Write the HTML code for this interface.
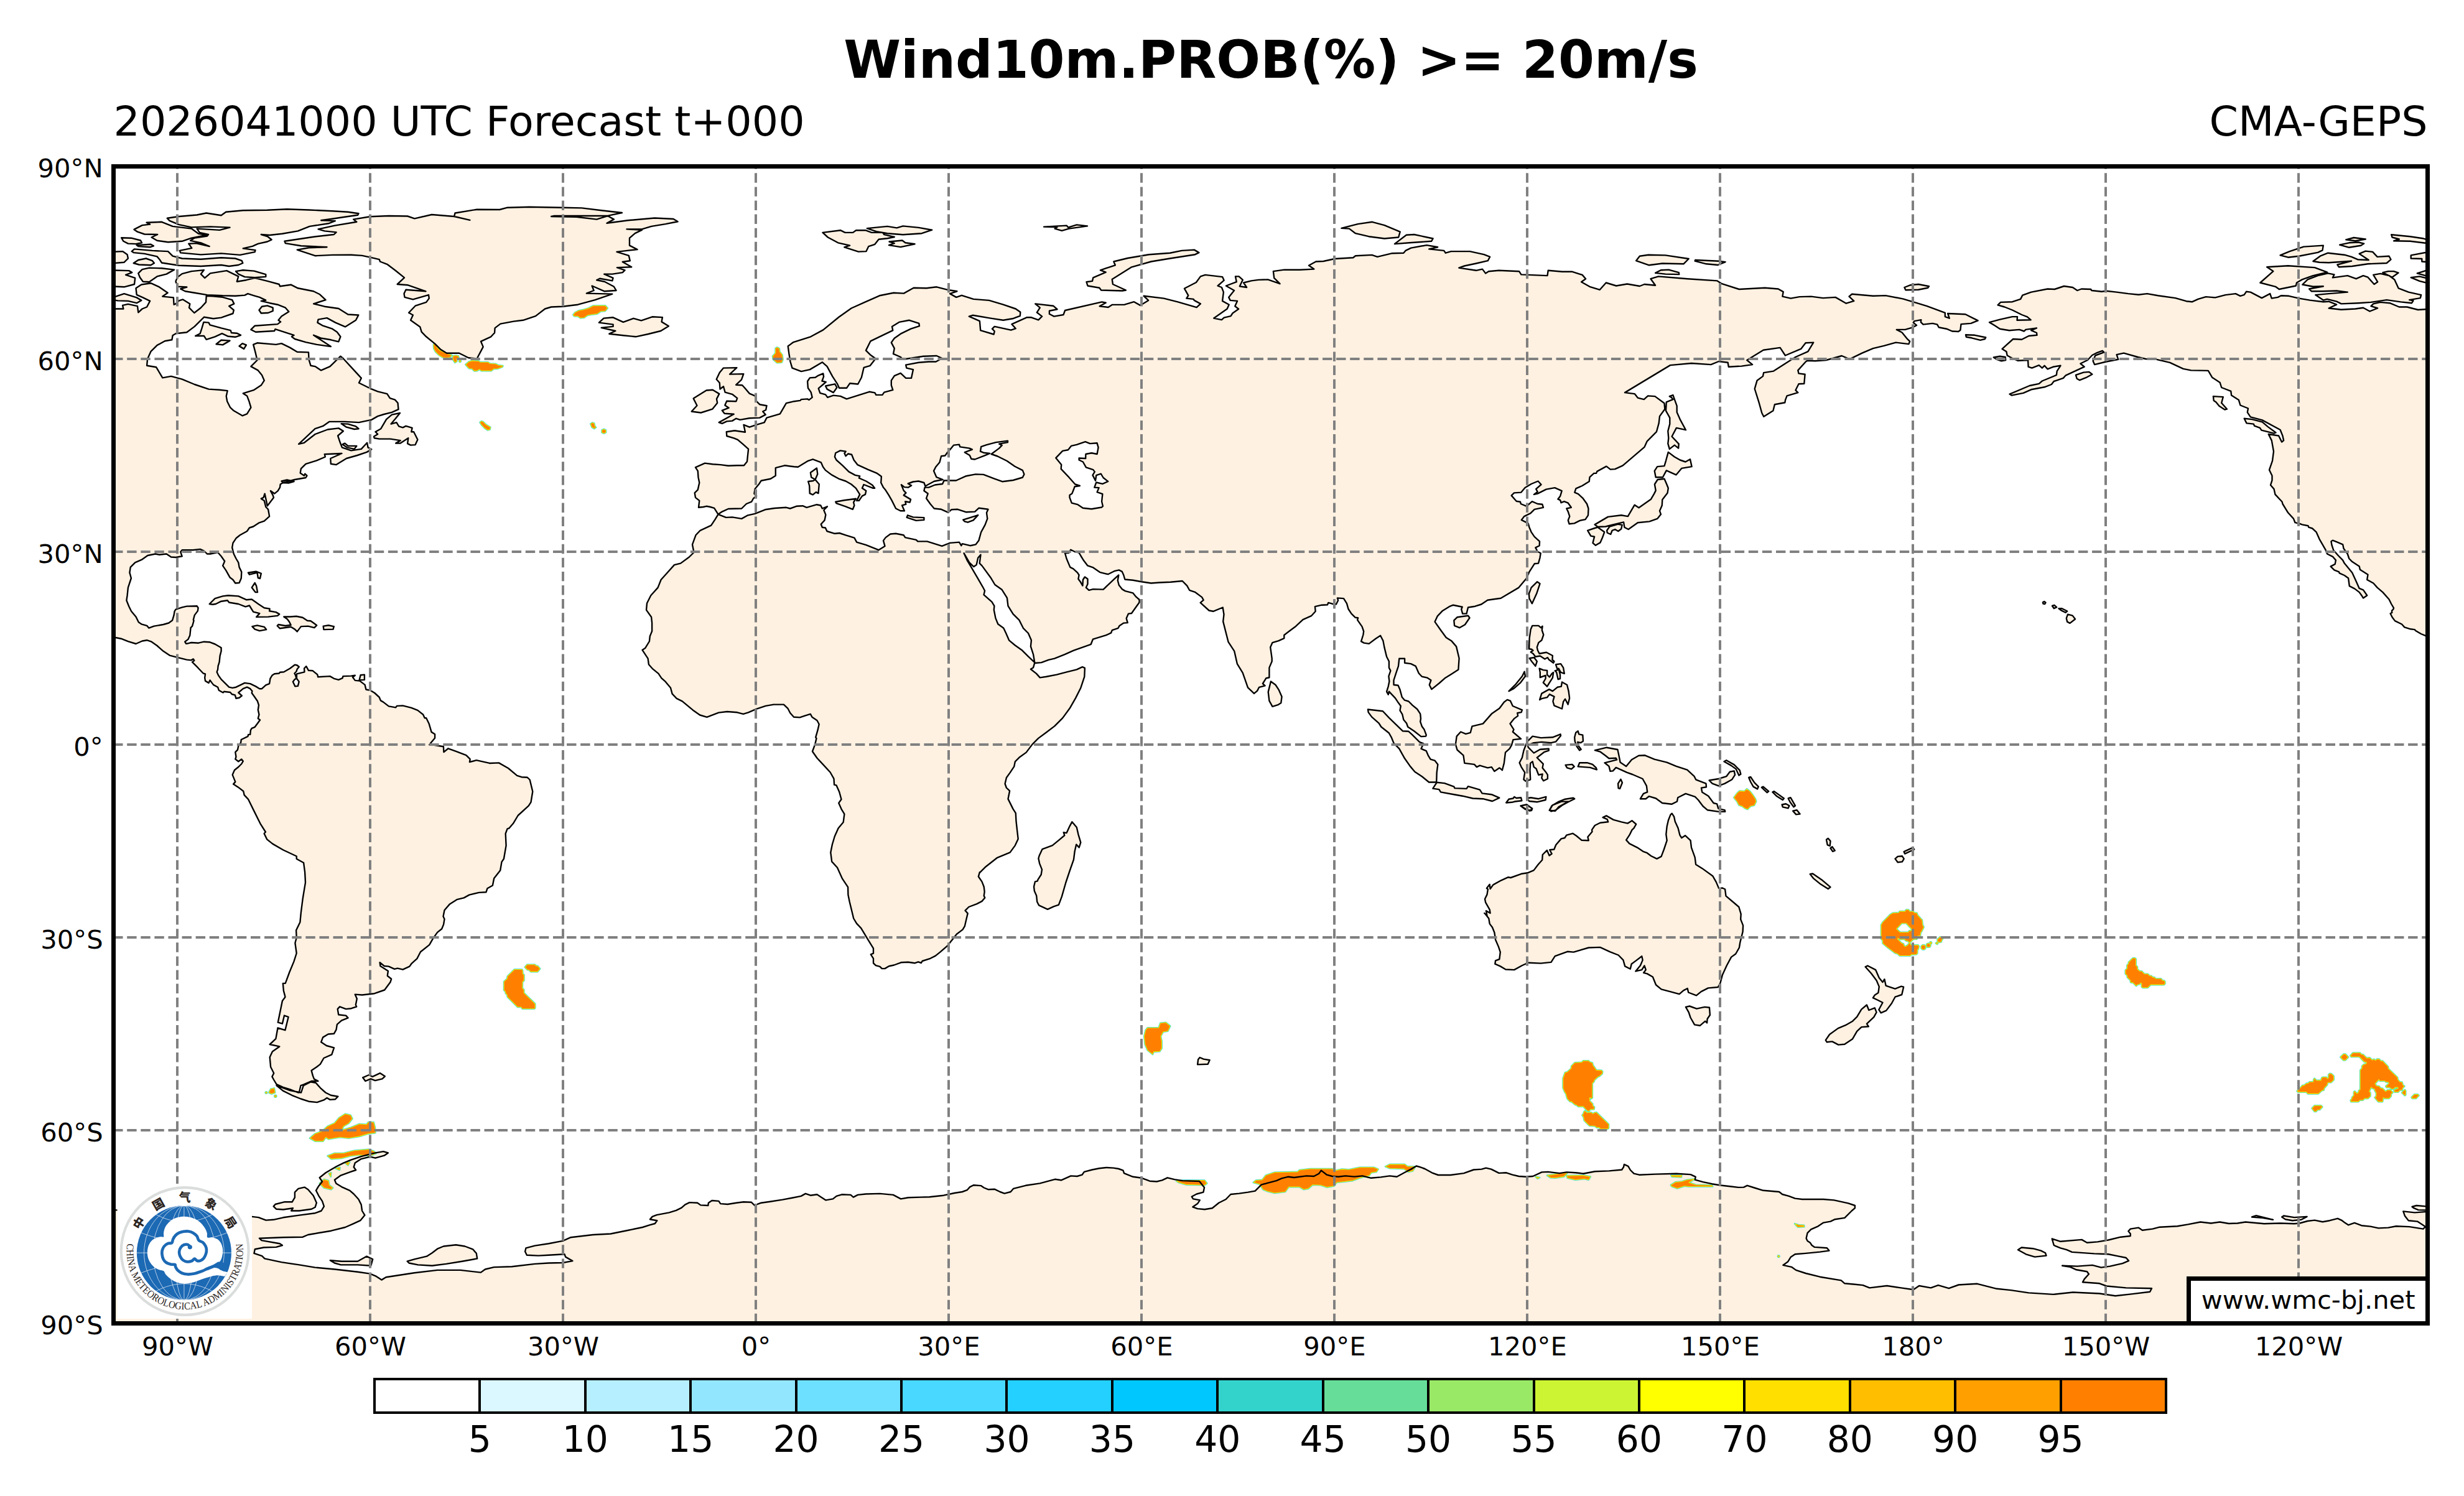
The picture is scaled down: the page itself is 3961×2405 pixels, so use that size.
<!DOCTYPE html>
<html lang="en"><head><meta charset="utf-8"><title>Wind10m.PROB(%) &gt;= 20m/s</title>
<style>html,body{margin:0;padding:0;background:#fff}body{width:3961px;height:2405px;overflow:hidden}svg{display:block}text{font-family:"DejaVu Sans","Liberation Sans",sans-serif;fill:#000}</style>
</head><body>
<svg width="3961" height="2405" viewBox="0 0 3961 2405">
<rect width="3961" height="2405" fill="#fff"/>
<defs><clipPath id="mapclip"><rect x="182.5" y="267.5" width="3720" height="1860"/></clipPath></defs>
<text x="2043" y="125.4" font-size="83.33" font-weight="bold" text-anchor="middle">Wind10m.PROB(%) &gt;= 20m/s</text>
<text x="182.5" y="217.9" font-size="66.67">2026041000 UTC Forecast t+000</text>
<text x="3902.5" y="217.9" font-size="66.67" text-anchor="end">CMA-GEPS</text>
<g clip-path="url(#mapclip)">
<defs><path id="landpath" d="M268.8 350.8L287.7 348L316.6 345.5L331.7 342.5L355.6 346.3L363.2 340.7L390.8 338.2L429.8 337.7L461.3 336.2L496.5 337.5L534.3 339.2L559.4 340.7L576.5 343.2L575 345.8L554.4 348.8L534.3 351.8L516.2 354.3L538.8 355.1L528 359.3L497.8 363.9L478.9 371.4L453.8 375.7L433.6 378L419.8 377L429.8 380L436.6 385.3L429.8 388.5L414.8 391.8L405.9 395.8L390.8 399.4L410.5 402.1L409.7 405.1L385.8 409.9L355.6 407.4L322.9 409.4L290.2 406.4L288.9 402.9L308.3 398.9L303.3 391.8L315.4 391.1L336.7 396.1L322.9 390.3L306.1 386.8L312.8 382.5L333 379.5L335 377L320.9 373.9L316.6 367.6L353.1 369.9L369.5 365.6L338 364.4L307.8 365.4L287.7 361.1L272.6 354.8ZM215.5 368.9L228.6 362.1L241.1 360.6L235.6 357.8L260 356.8L277.6 363.9L307.8 367.6L319.1 375.7L333 377.7L307.8 382.7L292.7 387.8L270.1 389.3L252.5 386.8L243.6 381.5L253.2 377L232.3 376.5L221 372.7ZM195.1 382.2L210.9 382.7L226 386.5L228 390.3L218.5 392.1L205.9 391.6L198.4 387.8ZM219.7 394.1L242.4 392.8L246.9 395.3L241.1 397.3L222.3 396.1ZM211.7 404.1L216 400.4L244.9 402.9L270.1 404.1L277.6 411.7L292.7 415.5L322.9 416.7L355.6 414.2L378.3 415.5L388.8 419.2L390.3 423L383.3 426L368.2 428L355.6 426L322.9 428L287.7 426.8L260 422.5L256.2 416.7L252.5 412.4L232.3 407.9L214.7 406.1ZM214.7 423L222.3 418L234.8 415.5L244.9 419.2L247.9 423L242.4 426.3L223.5 425.5ZM177 404.9L197.1 404.1L204.6 409.2L205.9 415.5L199.6 421.7L177 423.5ZM177 434.3L207.2 435.1L212.2 438.1L202.1 441.9L217.2 446.9L216 457L199.6 461.3L177 460.2ZM177 479.6L199.6 472.1L219.7 478.4L227.3 482.9L219.7 487.2L205.9 483.9L189.5 483.4L177 481.4ZM222.3 439.4L228.6 433.1L239.9 430.6L260 431.3L280.1 433.6L267.6 440.6L252.5 444.4L239.9 453.2L229.8 452.7L224.8 445.7ZM379 436.1L390.8 434.3L408.5 435.6L427.3 441.1L427.3 444.9L409.7 446.2L393.4 445.1L383.3 440.6ZM282.6 451.9L285.2 445.7L292.7 440.1L307.8 436.1L327.9 434.1L322.9 440.6L329.2 446.9L338 439.4L364.4 435.1L383.3 444.4L380.8 452.7L395.9 450.2L409.7 446.9L429.8 451.9L448.7 457L450 460.2L467.6 457.7L478.9 463.3L504.1 468.3L514.1 473.3L523.5 482.1L504.1 488.4L521.7 492.7L544.3 496L559.4 505.5L576.3 506.5L572 514.8L554.9 525.4L539.3 518.6L525.5 511.1L511.6 513.6L510.4 518.6L519.2 523.7L534.3 528.7L541.8 533.7L547.4 541.3L544.3 549.3L531.8 546.3L516.7 543.8L504.1 538.8L531.8 557.1L509.1 553.9L491.5 550.1L473.9 545L468.9 541.3L472.6 538.8L442.4 529.2L441.2 532L411 533.7L403.4 529.9L409.7 523.7L446.2 521.1L451.2 517.4L447.5 514.8L452.5 508.6L464.3 501L458.8 494.7L446.2 489.7L433.6 487.2L419.8 483.9L427.3 482.6L417.3 477.9L408.5 475.3L398.4 472.1L393.4 474.6L378.3 475.8L358.1 475.3L333 474.1L312.8 470.8L297.7 468.3L290.2 464.5L300.3 461.5L286.4 460.8L282.6 453.2ZM416.5 498.5L421 492.7L429.8 491.4L438.7 494.7L438.7 499.8L431.1 503L419.8 503.5ZM314.1 540L321.7 536.2L324.2 528.7L327.4 517.9L335.5 518.6L337.5 522.4L355.6 527.4L370.7 531.2L372 535L380.8 535.7L387.1 538.8L378.3 541.8L366.9 540.8L356.9 536.2L345.6 541.3L331.7 545.8L327.9 540ZM347.6 553.3L355.6 546.8L369.5 547.6L358.1 554.4ZM384.6 556.4L389.6 552.1L395.9 554.6L392.1 560.9ZM594.7 348.3L568.2 352.6L573.3 356.8L538 362.6L511.6 368.4L521.7 371.4L540.6 373.4L536.8 377L504.1 380.7L457.5 387.8L458.8 391.1L483.9 395.3L525.5 397.3L496.5 398.3L477.7 401.6L506.6 411.2L534.3 409.9L564.5 409.7L582.1 410.9L597.2 414.2L609.8 417.2L611 420.5L622.3 424.8L634.9 434.3L650 446.4L638.7 457L655.1 458.2L684.5 468.3L652.5 465.8L649.5 472.1L650.5 477.9L663.9 481.4L689 474.1L689.8 479.6L685.2 485.9L667.6 491.7L657.1 502.8L663.9 506.5L660.1 514.8L675.2 525.4L677.7 533.7L685.2 541.3L699.1 552.6L707.9 561.4L718 567.7L738.1 567.7L753.2 575.2L765.8 576.5L766.7 576.5L776.7 557.6L773 548.8L789.3 541.3L795.1 535L795.6 527.4L804.4 520.6L825.8 516.6L840.9 514.8L861 508.1L876.1 496.5L886.2 493.5L904.6 492.7L929 489.7L956.7 482.1L984.3 472.6L942.8 471.6L954.6 467L951.6 459.5L971.8 468.3L990.6 467L986.9 460.8L971.8 452.7L959.2 450.2L964.2 447.7L984.3 451.4L985.6 446.9L971.2 440.6L984.3 440.6L1000.7 438.1L1004.5 434.3L991.9 430.1L1015.3 429.3L1000.7 421L1012.8 419.2L1010.8 410.9L991.4 404.9L1008.2 402.9L1024.6 401.1L1012 394.6L1012 382.7L1020.8 375.2L1032.1 369.7L1007.5 368.4L1032.1 368.4L1047.2 363.9L1069.9 360.1L1089.5 356.3L1082.5 352L1052.3 350.5L1009.5 354.3L975.5 358.8L986.9 352.6L976.8 347L891.2 347L886.2 348L926.5 348.8L959.2 352.6L979.3 346.3L999.9 342L966.7 338.2L935.3 334.4L904.6 333.7L851 332.7L815.7 333.7L803.2 337L766.7 336.7L731.5 342.5L730.2 348L755.4 353.8L730.2 348L694.1 345L666.4 351.3L655.1 347.5L624.9 347ZM962.9 518.6L970.5 511.6L985.6 510.3L1001.9 517.9L1018.3 511.8L1030.9 515.4L1048.5 509.3L1064.9 510.1L1063.6 517.4L1074.9 524.2L1062.3 532L1042.2 537L1022.1 541.3L1001.9 539.3L979.3 536.7L989.4 532L966.7 526.9L985.6 524.9L985.6 521.6ZM1322.5 373.9L1351 370.2L1358.5 373.9L1371.1 373.9L1376.1 370.2L1391.2 370.2L1401.3 373.9L1418.9 373.9L1421.4 377.2L1437.8 381L1426.5 383.2L1412.6 384.8L1406.3 392.8L1396.3 396.1L1392.5 404.1L1379.9 404.6L1357.3 397.3L1366.1 394.6L1347.2 390.3L1330.8 381.5ZM1393.8 367.1L1426.5 363.9L1441.6 366.4L1451.6 363.4L1476.8 365.9L1498.2 369.7L1481.8 375.2L1451.6 377.2L1426.5 375.2L1408.8 372.2ZM1429.5 388.5L1450.4 386.5L1455.4 390.3L1470.5 392.3L1447.8 397.1L1429 394.1L1437.8 391.1ZM1678.1 364.6L1714.6 362.6L1717.1 365.6L1730.9 361.4L1748 363.4L1718.3 367.6L1707 370.9L1695.7 367.6L1699.5 365.1ZM1327.1 620.5L1342.2 617.3L1345.4 623L1339.7 631.1L1329.6 625.6ZM1746.5 453.2L1756 451.9L1757.3 446.4L1777.7 437.6L1768.9 434.3L1792.8 426.3L1790.3 420.5L1812.9 415L1846.9 409.2L1880.8 406.7L1899.7 402.9L1919.8 401.6L1927.4 406.1L1921.1 409.2L1880.8 415.5L1850.6 420.5L1819.2 429.3L1787.7 448.9L1789 457L1809.9 466.5L1804.1 467.5L1770.1 466.5L1767.4 462.8L1748.5 459.5ZM2156.4 366.9L2182.8 360.1L2205.9 356.8L2225.6 362.1L2250.7 372.7L2248.2 381.5L2225.6 383.5L2200.4 380.2L2179 375.2L2169 367.6ZM2241.9 392.1L2260.8 377.7L2273.4 377L2303.6 383.5L2301.1 387.8L2265.8 390.3ZM2630.1 419.2L2635.9 411.7L2649.8 409.7L2677.4 410.4L2714.7 416L2706.4 424.3L2672.4 423.5L2651 426.3ZM2725.2 418L2763 419.7L2773.6 421.2L2761.7 426L2742.9 424.3L2724.7 419.7ZM2661.1 438.9L2669.9 434.3L2682.5 433.6L2698.8 438.1L2699.3 441.1L2677.4 440.6ZM3061.4 462L3071.4 458.2L3084 457L3100.9 460.2L3099.1 462.8L3084 465.8L3063.4 466.3ZM3160 538.2L3174.6 538.8L3192.2 542.5L3190.9 545L3183.4 546.8L3169.6 543.3L3160.8 541.8ZM3204.8 574.5L3214.9 572.7L3223.7 574L3224.2 579L3217.4 580.3L3209.8 577.8ZM3336.9 602.9L3349.5 598.6L3358.3 597.9L3363.3 601.7L3353.2 607.2L3343.2 611.2L3338.7 608.7ZM3633.4 454.5L3654.3 436.1L3644.2 429.3L3678.2 427.3L3721 430.1L3741.1 437.6L3718.4 443.1L3700.8 449.4L3692 454.5L3690.8 459.5L3663.8 465L3658 460.8ZM3701.3 457.5L3709.6 449.4L3726 443.1L3742.3 439.4L3752.4 441.4L3749.9 446.4L3773.8 443.1L3787.6 448.2L3799 443.1L3806.5 445.7L3816.6 457L3822.1 453.2L3815.3 441.9L3826.6 439.9L3840.5 443.1L3849.3 449.4L3855.6 463.3L3871.9 469.6L3892.1 474.1L3890.8 479.1L3873.2 482.1L3879.5 483.4L3877 487.2L3859.3 485.4L3836.7 482.1L3811.5 485.9L3791.4 487.2L3763.7 488.4L3756.2 484.7L3741.1 480.9L3734.8 482.6L3722.2 474.1L3743.6 472.1L3773.8 469.6L3756.2 467.5L3733.5 468.3L3715.9 468.3L3712.1 464.5L3734.8 460.2L3718.4 460.8ZM3665.6 410.4L3680.7 404.1L3703.3 396.6L3734.8 394.6L3733.5 402.4L3726 405.9L3695.8 411.7L3678.2 413.7ZM3718.4 420L3729.8 411.7L3742.3 406.7L3768.8 409.7L3780.1 412.9L3790.1 417.2L3807.8 418L3792.7 407.9L3802.7 403.6L3814.1 404.9L3821.6 412.9L3840.5 411.7L3843.5 417.2L3836.7 423L3806.5 424.3L3781.3 428L3760 429.3L3757.4 425.5L3780.1 419.7L3743.6 422.3L3728.5 421.7ZM3771.3 385.3L3783.9 382L3802.7 384.5L3786.4 387.3ZM3761.2 393.6L3776.3 390.3L3791.4 389.5L3800.2 391.6L3795.2 394.8L3776.3 397.8ZM3844.2 377.2L3874.4 380.2L3894.6 383.2L3909.7 387.8L3909.7 392.1L3874.4 387.8L3848 387.3L3856.8 384.5L3845.5 381.5ZM3875.7 410.4L3909.7 404.1L3909.7 421.7L3893.3 420.5L3893.3 416L3875.7 415.5ZM3885.8 439.4L3909.7 431.8L3909.7 446.2ZM3875.7 446.2L3889.5 444.4L3909.7 449.4L3909.7 457L3889.5 451.9ZM3830.4 438.1L3839.2 436.1L3848 436.1L3855.6 438.6L3845.5 445.7ZM601 701.8L607.2 698L603.5 694.2L612.3 689.2L621.1 674.1L629.9 666.6L643 664L634.9 674.1L628.6 681.6L637.4 679.1L641.2 685.4L647.5 687.4L652.5 684.9L662.6 687.9L661.3 694.2L665.1 694.2L671.4 706.8L667.6 715.1L660.1 715.6L655.1 713.1L656.3 704.3L643.7 712.6L636.2 712.6L643.7 708.1L627.4 705.6L609.8 705.6L601.7 704.3ZM548.6 681.1L559.4 681.6L572 685.4L576.5 689.2L569.5 690L556.9 686.7ZM550.6 714.4L554.4 712.6L559.4 716.9L573.3 716.9L569.5 721.9L558.2 719.4ZM452.5 773.5L461.3 771.5L472.6 774L463.8 776.5L455 776ZM336.7 971L345.6 962.2L358.1 958.4L366.9 957.2L383.3 958.4L395.9 964.2L404.7 963.5L416 971.5L424.8 977.3L433.6 978.6L433.1 982.3L443.7 984.1L449.2 987.4L446.2 989.9L431.1 991.6L412.2 991.9L417.3 986.1L407.2 983.6L400.9 973.5L394.6 975.3L383.3 971L368.2 968.5L365.7 965.2L355.6 966.7L346.8 971L341.8 971.8ZM398.9 920.7L411.5 918.7L419.8 921.9L418 930L414.8 929L413.5 920.7L400.9 923.7ZM404.7 944.6L409.7 937L412.2 942.1L414 952.1L410.5 952.1ZM1111.7 661.5L1120.5 652L1114.7 640.6L1135.6 627.5L1145.7 626.8L1156.2 633.1L1152 641.4L1153.2 647.7L1145.2 657.7L1126.8 663.5ZM1163 591.6L1184.4 591.1L1173.1 601.6L1195.3 601.1L1192 610.4L1183.2 618.7L1193.2 619.2L1197.3 623.8L1204.8 632.6L1213.6 636.4L1216.1 645.2L1221.2 650.2L1232.5 652.2L1231.2 659L1226.2 661.5L1230.7 666.6L1221.2 671.6L1204.8 672.3L1189.7 674.9L1183.4 672.8L1177.1 676.6L1168.3 677.4L1160.8 680.9L1155.7 679.1L1179.7 665.8L1164.6 664.8L1160.8 659.8L1171.6 655.7L1165.3 651.5L1168.3 644.7L1183.4 645.2L1185.2 640.1L1177.1 633.8L1165.6 630.6L1163 621.3L1157.5 625.5L1156.8 615.5L1151.7 609.7L1156.8 599.1ZM1302.9 759.7L1313 752.6L1314.3 762.2L1310.5 771L1304.2 767.2ZM1299.2 774L1307.2 773L1310.5 771L1316.8 778.5L1315.5 793.1L1311.8 791.1L1306.7 795.4L1301.7 793.1L1301.2 781ZM1343.2 806.7L1357 804.2L1375.9 801.7L1372.1 807.5L1373.4 812.5L1370.9 818.8L1359.6 814.3L1344.5 809.2ZM1457.7 831.9L1459 828.3L1467.8 831.4L1485.4 832.1L1485.4 835.9L1472.8 836.9L1465.2 834.4ZM1548.3 835.6L1559.6 832.1L1572.2 828.1L1564.6 836.4L1555.8 839.7L1550.8 838.4ZM2683.8 637.1L2689.4 635.1L2695.7 652.7L2695.7 662.8L2700.7 674.1L2710 691.2L2694.9 687.9L2687.6 701.8L2698.7 713.6L2698.2 720.6L2691.9 715.6L2683.8 721.9L2681.3 713.1L2682.3 704.3L2681.3 693L2684.3 681.6L2684.3 671.6L2678 660.3L2678.8 646.4L2689.4 642.1L2686.9 638.9ZM2681.8 726.9L2691.9 734.5L2700.7 739.5L2709.5 742.5L2717 738.3L2719.6 750.1L2703.2 752.9L2694.4 763.4L2678.8 756.4L2673 767.2L2661.7 767.2L2659.7 757.1L2664.2 750.1L2675.5 749.1L2678 740.8ZM2664.7 771L2675.5 769.7L2679.3 778.5L2681.8 784.8L2680.6 792.4L2672.3 803.2L2671.8 812.5L2668 821.3L2670 826.8L2664.2 833.9L2651.6 838.4L2632.8 840.2L2617.7 851L2611.4 847.7L2610.1 839.4L2596.3 842.7L2581.2 846.5L2568.6 847L2563.6 843.4L2584.9 830.9L2606.3 828.3L2616.9 830.1L2627.7 811.7L2634.5 816.3L2654.1 802.4L2659.2 793.6L2661.7 788.6L2659.9 778.5ZM2552.2 852.8L2563.6 849L2568.6 847.7L2579.2 855.3L2576.1 864.1L2572.4 872.4L2564.8 876.7L2560.5 872.9L2563.1 862.8L2557.3 861.6ZM2583.2 852.8L2587.5 846.5L2601.3 842.7L2607.6 843.9L2606.3 850.2L2601.3 854L2596.3 851L2591.7 852.8L2589.2 859L2583.7 856.5ZM2457.9 954.7L2461.6 944.6L2471 935.3L2475.5 938.3L2470.5 953.4L2462.9 970.3L2458.4 962.2ZM3607.7 672.8L3620.3 674.1L3636.7 678.4L3645.5 685.9L3658.5 695.5L3655.5 696.7L3635.4 691.7L3632.9 687.9L3624.1 684.7L3622.8 681.6L3611.5 680.4ZM3557.9 637.1L3573.8 638.1L3571.2 647.7L3580 657.7L3576.3 658.5L3567.5 652.7L3562.4 646.4L3558.7 643.9ZM579.6 1085.3L585.9 1084.6L585.9 1092.9L577.6 1093.4ZM405.4 1007.1L413.5 1005.3L424.8 1007.8L428.1 1012.1L417.3 1014.1L409.7 1011.6ZM456.3 991.5L466.3 991.5L476.4 990.7L486.5 992.7L494 997.7L499.5 998.2L504.1 1001.5L509.1 1005.3L505.3 1009.1L495.3 1006.6L483.9 1007.1L477.7 1015.4L473.9 1011.6L467.6 1007.8L450 1010.3L445.7 1006L447.5 1004L458.8 1006L467.6 1004.8L465.1 999.8L461.8 995.2ZM519.7 1006.6L528 1005.3L536.8 1007.1L535.5 1011.6L520.4 1012.1ZM1723.4 1321.2L1730.8 1330L1733.4 1341.3L1737.3 1354.3L1734.7 1362.5L1730.2 1357.6L1727.6 1369L1726 1381.9L1719.8 1399.5L1713.3 1419L1706.8 1441.7L1701.9 1454.7L1693.8 1457.3L1684.1 1461.9L1670.1 1455.4L1667.2 1449.8L1666.2 1440.1L1662.9 1432.6L1662 1425.5L1663.9 1417.4L1667.8 1416.4L1668.5 1414.1L1673.7 1406L1675 1397.9L1671.1 1388.1L1669.4 1380L1670.7 1375.5L1675.6 1365.1L1691.8 1359.2L1701.6 1351.1L1711.3 1343L1709.7 1338.1L1714.6 1339.1L1719.5 1328.3ZM1925.1 1711.4L1926.1 1703.2L1928.7 1700L1934.8 1702.6L1944.6 1704.2L1941.7 1710.7ZM2042.9 1095.5L2050.5 1101L2055.5 1108.6L2060.6 1119.9L2059.3 1130L2054.3 1133.2L2045.5 1135.8L2040.4 1126.7L2038.7 1112.4ZM2337.3 997.4L2342.4 992.3L2360 989.8L2362.5 993.3L2355 1004.2L2346.2 1009.2L2338.1 1005.9ZM2199 1140.5L2222.9 1143.3L2232.9 1153.9L2255.1 1175.3L2264.4 1175.8L2269.4 1180.3L2282 1192.9L2288.3 1195.4L2284.5 1203.7L2292.8 1207.2L2295.8 1214.3L2299.6 1220.6L2306.4 1222.6L2311.4 1228.9L2309.7 1241.9L2309.2 1257.5L2297.1 1257.5L2285.8 1248.2L2274.4 1240.7L2266.9 1231.9L2258.1 1219.3L2249.3 1203.7L2240.5 1194.6L2236.7 1185.3L2232.9 1178.5L2220.3 1168.5L2216.6 1162.7L2205.2 1152.6L2199.7 1145.1ZM2303.4 1267.6L2309.7 1257.8L2322.2 1259.1L2337.3 1264.6L2338.6 1267.1L2357.5 1267.9L2360 1264.1L2378.9 1269.6L2382.6 1275.4L2397.7 1277.2L2410.3 1282.7L2399 1288L2383.9 1284.2L2367.5 1283.5L2351.2 1279.7L2337.3 1277.2L2316 1273.4L2313.4 1269.1ZM2348.2 1176.5L2356.3 1179.8L2363.8 1177.8L2366.4 1167.7L2384 1163.4L2397.8 1147.6L2410.4 1138.8L2417.9 1128.7L2423 1124.9L2428 1126.7L2431.8 1135L2446.9 1141.3L2445.6 1145.1L2439.3 1146.3L2440.1 1150.9L2434.3 1155.1L2427.5 1163.4L2433.5 1172.8L2431.8 1176.5L2445.1 1187.8L2432.5 1189.1L2430 1197.9L2426.7 1203.7L2420 1209.7L2417.9 1226.9L2414.9 1238.2L2410.4 1234.4L2402.3 1239.9L2397.8 1233.1L2391.5 1234.4L2378.9 1230.6L2373.9 1233.1L2370.1 1228.9L2354.3 1226.9L2352.5 1214.3L2342.5 1205.5L2339.9 1196.7L2341.7 1183.6ZM2425.5 1111.1L2436.8 1099.8L2446.9 1087.2L2450.6 1079.7L2451.9 1087.2L2444.4 1097.3L2433 1107.3ZM2458.2 1039.4L2458.7 1025.6L2460.7 1011.7L2463.2 1005.9L2473.3 1005.9L2477.1 1009.2L2479.6 1006.7L2478.8 1013L2481.3 1020.5L2478.3 1029.3L2473.3 1033.1L2470.8 1040.6L2472 1045.7L2474.6 1050.7L2485.9 1048.7L2495.9 1054L2495.4 1060.8L2498.5 1063.3L2497.2 1065.8L2489.7 1060.3L2487.9 1057L2483.4 1059.5L2475.8 1054.5L2468.3 1055.7L2464.5 1050.7L2460.7 1048.2L2464.5 1045.7L2462 1043.7L2458.2 1043.2ZM2458.7 1058.3L2466.2 1057L2470.8 1063.3L2468.3 1070.8L2463.2 1064.6ZM2501 1068.3L2509 1067.1L2513.1 1073.4L2514.8 1082.9L2509 1080.9L2505.5 1074.6L2508 1084.7L2508 1091L2504.7 1092.2L2502.2 1080.9L2499.7 1078.4L2504 1077.1ZM2474.6 1074.6L2480.8 1077.1L2487.1 1077.9L2487.1 1084.7L2490.9 1088.5L2494.7 1082.9L2497.2 1080.9L2495.9 1089.7L2490.9 1097.3L2487.1 1103.6L2480.8 1097.3L2484.6 1091L2484.6 1085.9L2475.8 1089L2475.8 1080.9ZM2475.1 1124.9L2478.3 1114.9L2490.4 1108.1L2495.9 1111.1L2503.5 1104.8L2509.8 1103.6L2511 1096.5L2519.1 1101L2521.6 1111.1L2523.1 1122.4L2520.6 1132.5L2516.1 1123.7L2513.1 1128.2L2511 1139.5L2498.5 1134.3L2496.4 1127.5L2498.5 1119.9L2490.9 1116.1L2487.1 1121.2L2478.3 1123.2ZM2455.7 1191.6L2463.7 1183.6L2477.1 1186.1L2495.9 1185.3L2508.5 1180.3L2509 1182.8L2501 1192.4L2493.4 1194.1L2478.3 1192.9L2465.7 1194.1L2455.7 1197.9L2456.9 1201.7L2465.7 1210.5L2475.8 1204.7L2489.7 1203.7L2489.7 1206.7L2482.1 1209.2L2470.8 1218L2480.8 1228.1L2479.6 1234.4L2484.6 1240.7L2487.9 1245.7L2487.9 1252L2481.3 1255.3L2478.3 1250.8L2479.6 1244.5L2473.3 1245.7L2469.5 1235.7L2465.7 1233.1L2463.7 1224.3L2460.2 1226.9L2459.5 1238.2L2460.2 1253.3L2452.7 1255.8L2449.4 1253.3L2451.2 1241.9L2445.6 1233.1L2442.6 1226.3L2446.9 1218L2449.4 1206.7L2453.7 1195.4ZM2531.2 1185.3L2533.2 1177.8L2536.7 1175.3L2538.2 1180.3L2544.3 1181.6L2545 1191.6L2541.2 1194.1L2536.2 1192.9L2537.5 1199.2L2541.7 1204.7L2539.2 1206.2L2534.9 1200.4L2531.7 1191.6ZM2516.6 1229.9L2527.4 1228.9L2530.7 1232.4L2526.1 1236.4L2519.1 1234.4ZM2536.7 1232.4L2539.2 1226.3L2551.3 1226.1L2560.1 1228.9L2565.9 1234.4L2566.9 1237.4L2556.3 1233.9L2546.3 1233.1ZM2563.9 1206.2L2572.7 1204.2L2582.8 1201.7L2600.4 1205L2602.4 1214.3L2604.6 1225.6L2614.2 1231.9L2623 1221.3L2634.3 1214.8L2644.4 1214.3L2659.5 1220.6L2679.6 1225.6L2694.7 1231.9L2712.3 1237.7L2723.7 1248.2L2726.2 1253.3L2742.5 1259.6L2743 1265.3L2735 1266.6L2736.2 1273.4L2746.3 1279.7L2754.6 1291L2760.1 1292.3L2762.2 1299.8L2772.7 1302.3L2773.2 1304.9L2762.7 1304.9L2745 1302.3L2737.5 1296L2730 1286L2724.9 1280.9L2709.8 1275.9L2697.2 1282.2L2696 1288.5L2687.2 1292.8L2672.1 1291L2662 1283.5L2650.7 1280.2L2645.7 1284.2L2636.9 1284.2L2641.9 1275.9L2648.2 1273.4L2646.9 1263.3L2640.6 1252L2624.3 1245L2615.5 1241.9L2597.8 1233.9L2592.8 1239.4L2588.5 1239.9L2586.5 1231.9L2579.5 1226.3L2599.1 1221.3L2597.8 1218.8L2586.5 1219.3L2580.2 1214.3L2572.7 1208.7ZM2601.1 1259.6L2605.4 1252.8L2607.9 1258.3L2604.1 1267.9L2601.6 1267.1ZM2747.6 1254.5L2762.7 1252L2775.2 1248.2L2780.8 1240.7L2787.8 1239.4L2789.1 1245.7L2784.1 1253.3L2772.7 1259.6L2762.7 1263.3L2752.6 1259.6ZM2771.5 1224.3L2775.2 1222.3L2787.8 1229.4L2796.6 1238.2L2798.4 1244.5L2795.4 1246.5L2790.8 1236.4L2782.8 1230.6ZM2811.2 1250L2814.2 1249L2820.5 1258.3L2826.8 1264.6L2825.1 1268.4L2818.5 1264.6L2814.2 1257ZM2831.9 1265.9L2834.4 1264.6L2843.2 1272.1L2840.7 1274.2ZM2849.5 1273.4L2852 1272.1L2867.8 1283.5L2865.8 1286L2855.8 1279.7ZM2874.6 1283.5L2878.4 1282.2L2886 1295.3L2883.4 1297.3L2877.9 1289.8ZM2864.6 1293.5L2870.9 1292.3L2876.4 1295.3L2874.6 1299.3L2865.8 1297.3ZM2882.2 1303.6L2888.5 1302.3L2893.5 1308.6L2887.2 1309.4ZM2421.2 1290.5L2425.5 1284.7L2432.5 1283.5L2434.3 1280.9L2437.6 1283L2445.1 1282.2L2446.4 1287.2L2435.6 1288.5L2430.5 1289.8ZM2454.4 1283.5L2460.7 1282.2L2473.3 1284.2L2485.4 1280.9L2484.6 1286L2470.8 1289.3L2458.2 1288ZM2444.4 1295.5L2453.7 1293.5L2463.2 1299.8L2462 1303.1L2451.9 1301.1ZM2490.9 1302.3L2494.7 1295.3L2506 1288.5L2516.1 1284.7L2529.2 1282.7L2531.2 1284.2L2521.1 1289.3L2511 1294.8L2501 1302.3L2493.4 1304.4ZM2428.5 1411L2445.6 1404.8L2455.6 1403.3L2465.6 1399.1L2472.7 1389.7L2479.2 1382.5L2479.8 1374L2486.9 1366.9L2490.6 1375.4L2494.6 1372.6L2491.2 1366.3L2498.3 1365.5L2501.2 1358.3L2509.7 1348.4L2515.4 1347L2518.2 1342.7L2528.2 1339.8L2533.9 1343.5L2542.4 1350.7L2553.8 1351.2L2552.4 1345.5L2559.5 1337L2559 1334.1L2563.8 1327L2572.3 1322.7L2585.2 1321.3L2583.7 1317.1L2576.6 1314.2L2582.3 1311.4L2593.7 1317.9L2606.5 1321.3L2616.5 1323.6L2623.6 1319.3L2630.2 1325L2626.5 1331.3L2623.6 1334.1L2619.3 1342.7L2614.2 1350.4L2619.3 1356.1L2632.1 1362.6L2642.1 1369.2L2647.8 1371.2L2654.1 1376L2663.5 1380.6L2670.6 1376.9L2674.9 1365.5L2679.7 1351.2L2678.3 1341.3L2679.7 1328.4L2682 1318.5L2685.4 1309.9L2687.7 1307.7L2691.1 1312.8L2692.8 1320.8L2697.6 1331.3L2700.5 1342.7L2703.3 1347L2709 1343.2L2717.6 1351.2L2719 1362.6L2724.7 1378.3L2726.1 1389.7L2736.1 1395.9L2753.2 1408.2L2758.9 1418.1L2763.1 1428.1L2768.8 1427.5L2773.1 1429.5L2774.5 1440.4L2785.9 1450L2795.3 1458L2798.7 1469.4L2798.2 1477.9L2802.1 1487.9L2801.6 1497.9L2797.3 1515L2795.9 1523.5L2790.2 1533.5L2783.1 1538.6L2775.9 1552L2768.8 1567.6L2765.4 1580.5L2761.7 1587L2746 1588.4L2734.7 1594.1L2727 1600.4L2714.2 1595.5L2712.7 1589L2706.2 1592.4L2699.6 1598.1L2684.8 1594.1L2670.6 1590.4L2662 1583.3L2656.9 1570.5L2647.8 1565.4L2642.1 1563.9L2645.8 1559.1L2643.5 1552.5L2639.3 1559.1L2629.3 1561.4L2637 1552L2640.7 1543.4L2639.3 1537.2L2629.3 1544.9L2622.7 1549.7L2620.8 1557.7L2612.2 1553.4L2609.4 1543.4L2601.7 1535.5L2588 1530.1L2572.3 1522.9L2553.8 1523.5L2529.6 1530.6L2519.7 1529.8L2499.7 1537.2L2493.5 1546.9L2477 1548.6L2457 1547.7L2447.1 1552L2434.2 1559.1L2420.4 1558.5L2411.8 1553.4L2403.3 1549.7L2404.1 1544.3L2410.4 1542L2411.8 1530.6L2409 1522.1L2404.1 1510.7L2402.4 1499.3L2399 1490.8L2394.7 1485.1L2393.3 1476.5L2388.2 1470L2386.2 1468L2390.5 1472.2L2389 1464.3L2395.6 1468L2394.7 1462.3L2388.2 1450.9L2387 1445.2L2390.5 1438.1L2391.9 1429.5L2389.9 1428.1L2394.7 1421.8L2395.6 1429L2400.4 1422.4L2413.2 1415.3L2424.6 1410.2ZM2709.9 1618.9L2716.1 1617.5L2727.5 1621.7L2740.4 1618.9L2748 1619.8L2748.9 1631.7L2744.6 1638L2744.1 1644.5L2741.2 1641.7L2732.7 1648.8L2724.1 1647.4L2717.6 1636L2714.7 1627.4ZM2998.6 1554.3L3002.3 1552.5L3015.1 1559.1L3020.8 1571.9L3026.5 1579L3029.4 1574.2L3031.7 1584.7L3046.5 1589.6L3056.4 1585.6L3060.1 1586.7L3057.3 1599L3046.5 1602.7L3040.8 1613.2L3032.2 1624.6L3023.7 1628.3L3020.3 1623.2L3026.5 1611.8L3018 1607.5L3010.9 1604.1L3013.7 1599.8L3019.4 1596.1L3020.8 1586.1L3016.6 1576.2L3008 1564.8ZM2934.8 1672.1L2941.1 1663L2954.8 1653.1L2966.7 1648.2L2978.1 1641.7L2985.2 1634.6L2992.4 1622.6L3000.9 1615.5L3004.3 1624L3013.7 1620.3L3016.6 1627.4L3012.3 1635.1L3000.9 1645.9L3003.8 1650.2L2992.4 1651.1L2985.2 1657.9L2978.1 1670.2L2965.3 1678.7L2955.3 1679.6L2945.4 1674.4L2936.8 1675.3ZM2909.8 1405.3L2914.1 1404.5L2929.7 1415.3L2942.5 1426.1L2938.8 1429L2926.9 1421.6L2915.5 1412.4ZM2936 1349.8L2938.8 1347.8L2942.5 1352.1L2941.7 1359.8L2937.7 1358.3ZM2942.5 1363.5L2945.4 1361.2L2949.7 1367.5L2946.2 1368.9ZM3046.5 1380.6L3050.7 1376.9L3057.9 1376.3L3060.7 1380.6L3057.9 1385.4L3050.7 1386.2ZM3060.7 1369.2L3074.9 1362.6L3077.2 1365.5L3062.1 1372.6ZM2444.6 1295.7L2454.5 1293.4L2463.1 1300L2459.4 1303.7L2451.7 1300ZM2490.7 1302.8L2495.8 1294.3L2510.1 1288.6L2521.4 1288.6L2505.8 1297.1L2500.1 1303.7ZM444.5 1745.1L455 1753.6L469.3 1760.8L483.5 1766.5L496.3 1770.7L509.7 1772.1L520.5 1768.4L525.6 1765L530.5 1767.9L539 1767.3L543.3 1762.7L531.9 1760.8L523.4 1756.5L516.2 1750.2L507.7 1740.8L499.2 1739.4L487.8 1745.1L484.1 1756.5L466.4 1753.1ZM583.2 1732.3L593.1 1728L598.8 1730.9L611.1 1725.2L618.8 1730.3L614.5 1734.3L603.1 1737.1L596 1734.3L587.4 1738ZM177 496.5L198.4 496.5L197.1 490.9L205.9 488.9L221 492.2L222.3 502.3L228.6 496.5L236.1 493.5L241.1 483.9L229.8 478.4L219.7 473.8L218.5 463.3L227.3 457.5L242.4 455.2L255 460.8L269.6 470.8L261.3 476.6L278.9 478.4L279.6 489.7L282.6 488.4L287.7 483.4L294 481.4L305.3 488.4L304 494.7L312.3 503L322.9 494.7L331 485.9L331.7 475.8L343 476.4L358.1 477.9L373.2 482.1L376.3 488.4L368.2 492.2L375.8 498.5L374.5 504L355.6 510.6L343 512.3L327.9 509.8L319.1 518.6L312.8 524.9L300.3 534.2L282.6 536.2L277.6 539.3L276.4 546.3L265 548.3L252.5 555.1L242.4 565.2L237.9 575.2L236.9 579L236.1 587.8L251.2 590.3L261.3 607.4L275.1 604.9L292.7 609.7L312.8 618L335.5 625.6L353.1 626.8L365.7 628.1L363.7 636.9L365.2 645.2L370.2 655.2L375.8 660.3L389.6 668.3L397.1 665.3L403.4 655.2L400.4 645.2L397.1 636.4L390.8 632.4L408.5 626.8L419.8 619.3L424.8 611.7L421 602.9L414.8 595.4L403.4 589.1L413.5 579L410.5 566.4L407.2 553.9L413.5 551.3L443.7 553.9L452.5 552.1L466.3 558.9L477.7 565.7L496 566.4L496.5 577.8L499.5 587.8L506.6 589.1L516.2 595.4L530.5 589.1L547.4 572.7L551.9 576.5L567 592.9L580.8 607.9L577 615.5L594.7 624.3L607.2 629.3L622.3 633.1L626.9 640.1L634.9 642.6L639.5 647.7L640.5 658.2L629.9 662.8L617.3 666L607.2 669.1L597.2 674.9L577 679.1L554.4 677.9L529.2 677.9L519.2 684.9L506.6 689.2L480.2 713.9L489 711.8L506.6 698L526.7 690.5L544.3 688.4L551.9 693L543.1 700.5L546.9 711.8L549.9 719.4L564.5 724.4L580.8 721.9L590.1 711.8L591.6 719.4L597.2 722.4L589.6 726.9L574.5 732L556.9 737L540.6 747.1L531.8 745.8L531.3 737L549.4 729L521.7 730.2L522.9 734.5L509.1 740.3L491.5 745.8L483.9 753.4L482.7 760.4L489 764.7L490.2 761.7L493.5 764.7L491.5 768L473.9 771L455 776L450.7 778.5L450 783.6L446.7 789.1L441.2 793.6L434.9 789.1L438.7 796.1L439.9 799.9L429.8 813.2L425.6 793.6L423.6 799.9L419.8 801.7L424.8 804.9L427.3 815L431.1 818.8L433.1 830.1L424.8 837.7L416 840.7L407.2 846.5L400.9 848.5L397.1 854L385.8 860.3L379.5 865.3L374.5 872.9L373.2 880.4L375.8 890.5L379.5 898L383.3 904.3L384.6 911.9L388.3 919.4L387.8 929.5L384.6 937L378.3 937.5L374.5 932L369.5 928.2L363.2 916.9L358.1 909.4L361.2 902.3L355.6 894.3L350.1 888L338 890.5L333 890.5L327.9 885.5L321.7 882.9L310.3 884.2L292.7 884.2L290.2 887.2L292.7 894.3L282.6 896L275.1 895.5L267.6 890.5L256.2 891.8L249.9 890.5L237.4 893L228.6 899.3L217.2 904.3L209.7 911.9L208.4 920.7L210.9 929.5L205.9 944.6L204.6 957.2L203.4 965.2L207.2 974.8L210.9 982.3L212.2 983.9L218.5 991.5L222.8 1000.3L227.3 1003.3L236.1 1005.8L239.4 1009.6L247.4 1006.6L262.5 1004L271.3 1001.5L277.1 997.2L279.6 988.9L280.6 982.6L282.6 979.6L292.7 976.4L300.3 974.6L316.6 974.3L318.6 977.1L317.9 982.1L312.8 988.9L310.8 996.5L311.6 997.7L309.1 1006.6L306.6 1009.1L305.3 1021.6L302.3 1027.9L297.2 1031.7L299 1034.7L302.8 1034.2L307.8 1033L319.1 1033.7L327.9 1031.7L336.7 1032.2L345.6 1035.5L355.6 1041.3L355.6 1046.8L353.6 1054.4L352.6 1064.4L350.6 1070.7L350.1 1076.2L348.6 1080.3L351.1 1085.8L355.6 1092.1L361.9 1098.4L368.2 1104.7L373.7 1105.9L379.5 1104.7L388.3 1100.4L393.4 1097.9L402.2 1099.1L411 1103.4L417.3 1107.2L421 1107.2L427.3 1101.4L433.1 1099.1L434.4 1090.8L437.4 1085.8L441.2 1083.3L448.7 1082.5L450 1080.8L456.3 1080.3L466.3 1074.5L473.9 1068.7L477.7 1069.5L480.7 1072L477.7 1075.7L476.4 1079.5L473.4 1082.5L475.1 1085.8L476.4 1090.8L473.9 1092.1L470.9 1095.9L474.4 1103.4L478.9 1102.9L480.7 1095.9L476.9 1090.8L476.9 1083.3L489.5 1080.3L489 1074.5L492.3 1071.2L496 1077.8L502.8 1078.3L510.4 1084.6L511.1 1088.3L530.5 1087.1L536.8 1090.8L544.3 1092.9L550.6 1090.1L551.4 1087.1L564.5 1086.6L570.8 1085.8L567 1088.8L570.8 1093.9L578.3 1094.6L586.6 1100.9L588.4 1108.5L595.2 1109.7L602.2 1114L609.8 1121L611.8 1126.1L616.1 1128.6L624.9 1135.4L636.2 1137.4L637.9 1134.9L647.5 1134.4L661.3 1137.9L671.4 1141.9L680.2 1148.7L682.7 1154.3L685.2 1154.3L689.8 1163.8L693.6 1176.9L699.1 1180.2L699.1 1186.5L692.8 1194L690.3 1197.3L697.8 1197.8L712.9 1200.3L713.4 1209.1L720.5 1203.3L733.1 1207.8L749.4 1214.1L755.7 1220.4L754.9 1225L765.8 1222.2L785.9 1226.7L787.1 1227L801.9 1226.4L817 1235L831.2 1246.9L838.4 1249.2L847.8 1249.8L851.7 1253.5L856.3 1272.5L853.5 1289.6L849.8 1295.3L832.7 1311L825 1323.8L818.4 1331.5L815.6 1332.3L812.7 1340L813.6 1359.4L809.9 1380.8L806.5 1385.6L804.2 1399.3L794.2 1412.1L791.9 1423.5L783.4 1428.3L781.4 1434.3L770 1434.9L754.4 1438.6L745.8 1443.4L734.4 1446.2L723 1453.4L714.5 1463.3L712.5 1473.3L714.5 1477.6L713.1 1486.1L710.2 1493.2L703.1 1498.9L696 1508.9L690.3 1518.9L676 1530.3L670.4 1541.1L661.8 1548.8L658.4 1553.6L647.6 1558.7L639 1556.7L634.2 1557.9L624.8 1553.6L617.7 1553L610.6 1547.3L611.4 1553L623.9 1561L622.8 1568.7L629.1 1573.8L627.6 1578.7L618.2 1591.5L602 1597.2L582.1 1599.5L570.7 1598.6L573.8 1605.6L571.8 1615.5L573.2 1618.4L564.7 1621.2L556.1 1622.1L546.1 1618.4L542.7 1622.1L544.2 1631.2L556.1 1632.6L559.5 1636.3L549 1640.6L541.9 1646.9L540.5 1655.4L537 1661.7L527.6 1662.5L519.1 1667.6L516.2 1675.3L524.8 1681L537 1684.4L533.3 1695.3L520.5 1701L514.8 1710.9L509.1 1715.2L500.6 1720.9L502.9 1729.4L504.9 1734.6L511.4 1738L500.6 1738L487.8 1743.7L483.5 1745.1L481.2 1755.1L479.2 1756.5L466.4 1751.4L455 1747.9L444.5 1743.1L440.2 1736L437.4 1730.9L440.2 1725.2L435.1 1715.2L433.7 1699.5L437.9 1690.4L449.3 1682.4L433.7 1679L443.4 1669.9L446.5 1652.5L458.4 1656.2L463.6 1634.9L457 1632.6L453.9 1645.7L446.8 1643.7L453.9 1609L458.4 1603L458.2 1601.4L455.9 1592.9L454.8 1580.9L458.8 1580.7L465.3 1563L472.4 1545.9L476.7 1532.5L474.4 1516L476.7 1507.5L476.1 1495.5L482.4 1482.4L483.8 1467.6L486.7 1444.8L491 1418.6L490.1 1402.1L488.1 1387L476.7 1380.8L476.7 1376.5L455.4 1366.5L438.3 1356.6L429.2 1349.4L424.6 1340L426.9 1337.5L418.3 1323.8L408.4 1303.9L399 1284.8L392.7 1278.2L391.3 1272L382.7 1265.4L375.1 1260.6L378.3 1256.9L373.7 1245.6L377 1238L383.3 1233L388.3 1228L390.8 1223.7L388.3 1220.4L383.3 1224.2L378.3 1220.4L379.5 1216.7L378.3 1209.1L382 1205.3L383.3 1199L387.1 1194L387.8 1189L398.4 1183.9L399.2 1180.9L402.2 1180.9L402.9 1173.9L404.7 1170.9L409.7 1168.8L418 1157.5L414.8 1155L416.5 1148.7L414.8 1141.2L416 1133.6L414 1127.3L409.7 1121L404.7 1114L405.4 1111L402.2 1107.2L397.1 1104.7L390.8 1107.2L383.3 1113.5L388.8 1118.5L384.6 1121.8L379.5 1122.8L377.8 1117.3L372.7 1116L370.2 1113L360.1 1111.7L358.6 1113.5L351.8 1109.7L350.1 1104.7L343 1100.9L339.3 1095.9L337.5 1093.4L335.5 1097.9L330 1094.6L329.2 1089.6L330 1083.3L326.7 1082.5L317.9 1073.2L309.1 1064.4L312.3 1061.9L310.8 1059.4L307.3 1061.4L300.3 1060.6L285.2 1056.9L272.6 1053.6L262.5 1046.8L252.5 1038L243.6 1031.7L236.1 1029.2L228.6 1030.5L218.5 1035L205.9 1031.2L194.6 1026.7L182 1024.2L174.5 1022.9ZM3909.7 496.5L3887 498L3869.4 493.5L3856.8 493.5L3841.7 487.2L3826.6 485.9L3815.3 488.4L3811.5 492.2L3822.1 495.5L3809.5 500.5L3799 494.7L3786.4 496.5L3763.7 497.7L3743.6 495.5L3756.2 489.7L3743.6 484.7L3734.8 485.2L3713.4 482.6L3695.8 479.6L3679.4 475.8L3666.9 475.3L3661.8 477.9L3651.8 479.6L3649.2 472.1L3635.9 479.1L3617.8 469.6L3611 468.8L3607.7 473.8L3601.4 475.8L3593.9 472.1L3577.5 474.1L3561.2 478.4L3546.1 477.1L3533.5 480.9L3524.2 485.2L3514.6 484.2L3497 479.1L3469.3 475.3L3451.7 472.1L3437.9 473.8L3421.5 472.1L3402.6 469.6L3385.8 467.8L3378.7 468.8L3362.4 467L3361.1 465L3346 464.5L3339.4 467L3331.9 462L3318 460L3302.9 465L3291.6 464.5L3265.2 469.6L3251.3 474.6L3248.1 480.9L3235 485.2L3216.1 485.9L3211.6 490.4L3222.4 493.5L3235 498.5L3250.1 506L3258.9 509.3L3264.7 514.3L3242.5 514.8L3243 509.1L3235 509.1L3214.9 513.6L3198 518.1L3207.3 523.7L3214.9 528.7L3230 531.2L3246.3 529.9L3253.9 532.5L3256.4 529.9L3274 527.4L3265.2 531.2L3274 535L3274.5 538.8L3261.4 540L3250.1 545.8L3236.2 545L3224.9 555.1L3218.6 560.9L3225.4 565.2L3226.7 571.5L3235 576L3243.8 579.8L3260.1 579L3260.6 589.6L3266.4 591.6L3277.8 587.1L3282.8 591.6L3286.6 587.8L3291.6 593.4L3300.4 589.8L3312.5 587.8L3306.7 596.6L3305.9 602.9L3282.8 612.5L3277.8 616.8L3262.7 620L3230.5 633.6L3233.7 635.6L3252.6 631.9L3265.2 626.3L3286.6 622.3L3297.9 618L3301.7 613L3316.8 607.9L3320.5 603.7L3350.7 589.6L3344.4 584.5L3355.8 579L3363.3 571L3369.6 567.7L3379.7 563.9L3382.2 566.4L3368.3 571.5L3364.6 580.3L3367.1 586.1L3385.8 581.5L3405.2 577.8L3402.6 570.2L3414 567.7L3436.6 574L3449.2 577L3466.8 577.8L3488.2 582.8L3509.6 592.9L3522.2 595.4L3549.8 595.9L3556.1 606.7L3568.7 615L3571.2 623L3586.3 628.8L3587.1 635.6L3598.9 643.1L3601.4 651.5L3614 656.5L3612.8 662.8L3617.8 670.3L3636.7 675.4L3665.6 691L3669.4 700.5L3671.1 708.1L3668.1 710.6L3663.1 700.5L3646.7 698L3651.8 708.1L3655 725.7L3653 740.8L3648 755.4L3652.5 764.7L3652.5 772.2L3650 779.8L3655.5 786.1L3657.5 794.9L3668.6 806.7L3669.4 810L3678.2 824.3L3687 833.9L3689.5 840.2L3697 841.9L3700.8 843.4L3710.4 845.2L3711.4 847.7L3717.2 849.5L3723.5 855.3L3728.5 866.6L3738.6 884.2L3741.1 890.5L3749.9 894.8L3754.9 900.6L3753.7 906.9L3746.6 910.6L3752.4 916.4L3760 919.4L3760.7 921.4L3768.8 925L3775.1 929.5L3776.8 942.1L3785.1 946.4L3792.7 952.1L3796.4 957.2L3799 961.5L3805.2 957.2L3799 948.4L3792.7 945.9L3787.6 934.5L3781.3 920.7L3768.8 905.6L3766.2 900.6L3758.7 893L3751.1 884.2L3748.6 876.7L3747.4 870.4L3749.9 868.6L3756.2 871.1L3766.2 875.4L3767.5 881.7L3773.8 890.5L3776.3 898L3781.3 903.1L3792.7 910.6L3793.9 915.7L3806.5 923.7L3805.2 932L3815.3 937.5L3821.6 944.6L3830.4 952.1L3840.5 963.5L3844.2 971L3848 977.3L3847.4 979.4L3844.9 981.9L3845.3 984.9L3842.6 986.3L3845.6 992.2L3850 998.1L3861 1003.5L3865.4 1008.4L3875 1011.3L3881.6 1012.1L3883.8 1014.3L3891.9 1019L3900 1022.4L3923.5 1029.7L3923.5 910.6ZM1354.1 1412.7L1346 1394.8L1337.2 1385.1L1335.3 1370.4L1337.9 1357.5L1341.8 1344.5L1347.6 1331.5L1355.7 1321.7L1357.4 1308.7L1352.5 1300.6L1348.3 1290.9L1352.5 1285L1349.2 1273L1344.4 1262.3L1341.1 1261.6L1340.5 1251.9L1334.6 1241.5L1323.2 1229.1L1313.5 1218.7L1306 1208L1310.2 1196.6L1312.5 1186.9L1311.2 1185.3L1314.5 1173.9L1316.7 1164.2L1313.5 1158.3L1305.4 1152.8L1302.8 1147.9L1292.4 1151.2L1285.9 1153.4L1276.1 1152.8L1270.3 1146.3L1266.4 1138.8L1259.9 1132.6L1243.6 1132.6L1230.7 1134.9L1215.7 1139.8L1203 1145.3L1194.9 1147.9L1185.2 1145.3L1168.9 1144L1155.3 1145.6L1136.4 1152.8L1125.1 1149.5L1113.7 1141.4L1096.8 1127.4L1087.7 1122.9L1080.6 1115.4L1078 1105.7L1069.8 1095.9L1063.3 1090.1L1058.5 1082.9L1048.7 1074.8L1042.9 1068.3L1041.6 1058.6L1032.5 1044.9L1037.4 1041.7L1043.9 1031L1044.8 1022.8L1048.1 1014.7L1048.1 1001.7L1047.1 992L1039 980.6L1040 969.8L1046.3 957.2L1057.6 944.6L1062.6 932L1072.7 920.7L1084 908.1L1094.1 905.6L1107.9 895.5L1115.5 888L1113 875.4L1118.5 860.3L1125.6 852.8L1143.2 844.7L1149.5 835.1L1154.5 826.8L1167.1 831.9L1177.1 831.4L1192.2 833.9L1202.3 828.3L1213.6 825.8L1230 819.3L1245.1 817L1263.9 815.8L1270.2 817.5L1280.3 813.8L1290.4 813.2L1296.7 815.8L1313 811.2L1319.3 812.5L1321.8 817.5L1329.9 814.3L1324.3 820L1327.4 827.6L1325.6 836.4L1319.8 842.7L1321.8 847.7L1326.9 848.5L1329.4 854L1341.9 857.8L1349.5 857L1359.6 860.3L1373.4 864.6L1377.2 871.6L1392.3 876.2L1412.4 884.2L1422.5 877.9L1420 869.1L1423.7 864.1L1431.3 858.5L1440.1 857.8L1452.7 860.3L1455.2 864.1L1472.8 867.8L1475.3 870.4L1490.4 870.4L1514.3 877.9L1526.9 872.9L1542 871.6L1545.3 877.2L1547 874.1L1559.6 877.2L1568.4 875.4L1573.4 869.1L1577.2 855.3L1583.5 843.9L1587.3 833.9L1586 824.3L1588.5 818.8L1573.4 816.8L1567.2 822.6L1553.3 823.3L1539.5 818.8L1529.4 819.3L1524.4 823.8L1513.1 818.8L1501.7 817.5L1495.4 810L1489.1 801.2L1491.7 793.6L1485.4 789.1L1486.6 783.6L1492.9 783.6L1503 779.5L1515.1 778L1517.6 772.5L1537 772.5L1553.3 765.2L1568.4 762.4L1581 762.9L1598.6 769.7L1611.2 774.2L1628.8 772L1643.9 767.5L1646.4 762.4L1643.9 756.1L1631.3 749.8L1618.7 741L1603.6 733.5L1593.6 730L1606.2 720.6L1610.7 715.9L1606.2 713.6L1620 711.1L1620 708.6L1601.1 711.1L1586 715.1L1577.2 718.1L1576 725.7L1581 727.7L1591.1 729L1583.5 732.2L1567.2 738.5L1561.4 737.8L1558.8 732L1550.8 727.2L1562.9 722.7L1558.3 720.6L1543.2 718.4L1542 714.6L1533.2 715.6L1526.9 723.2L1523.1 727.2L1519.3 732.5L1513.1 733.2L1510.5 743.3L1504.2 750.8L1501 757.1L1505.5 767.2L1515.6 771L1501.7 773.7L1487.4 781.5L1485.4 776L1476.6 773.5L1467.8 774.5L1459.7 777.5L1465.2 780.5L1460.2 783.6L1453.9 783.1L1448.9 779.3L1452.7 788.6L1456.4 792.4L1452.7 796.1L1464 802.9L1462.7 807.5L1455.2 806.2L1456.4 810.7L1450.1 812.5L1453.9 821.3L1447.6 821.3L1440.1 817.5L1433.8 804.9L1428.8 796.1L1423.7 788.1L1420 783.6L1416.2 776L1416.9 765.9L1409.9 760.9L1394.8 754.6L1378.4 747.1L1372.6 739.5L1369.1 730.7L1363.3 729.5L1359.6 733.2L1357.5 728.7L1359.6 725.7L1350.8 724.4L1343.2 728.2L1341.9 734.5L1344.5 739.5L1354.5 748.3L1364.6 758.4L1374.7 763.9L1382.2 765.4L1380.9 768.5L1392.3 773.5L1402.3 779.8L1406.1 784.8L1403.6 784.8L1388.5 779L1386 784.8L1392.3 789.1L1391 794.9L1386 797.4L1380.9 804.9L1377.2 804.9L1382.2 794.9L1375.9 784.8L1368.4 778.5L1359.6 773.5L1349.5 770.2L1336.9 763.4L1326.9 755.9L1323.1 750.8L1319.8 743.3L1306.7 738.3L1299.2 740.8L1282.8 750.8L1276.5 750.3L1261.4 748.3L1246.8 752.1L1246.8 764.7L1238.8 769.7L1223.7 772.7L1219.9 778.5L1213.6 786.1L1212.4 793.6L1216.1 797.4L1211.1 801.2L1208.1 806.7L1199.8 810L1192.2 817.5L1170.8 818L1160.8 822.6L1154.5 826.8L1148.2 816.8L1141.9 815L1135.6 813.8L1130.6 815L1123 815.8L1124.3 804.9L1118 799.9L1116.7 792.4L1121.8 787.3L1124.3 776L1122.5 767.2L1121.8 757.1L1118 751.3L1133.1 744.6L1145.7 746.3L1158.3 747.1L1170.8 748.8L1184.7 748.3L1196 748.3L1201 742L1203.1 721.9L1194.7 714.4L1185.9 706.8L1179.7 704.3L1168.3 701L1167.8 694.2L1180.9 692.2L1198 694.7L1195.5 682.9L1204.8 686.7L1216.1 682.9L1228.7 679.1L1232.5 671.6L1253.9 665.3L1263.9 648.2L1276.5 645.2L1286.6 643.9L1287.8 642.1L1297.9 641.4L1300.6 642.9L1305.7 638.9L1303.7 630.6L1298.9 623.8L1298.1 613L1301.9 607.4L1310.7 606.7L1314.5 604.2L1323.3 600.4L1324.1 605.4L1321.5 612.5L1327.8 614.2L1323.3 618L1315.7 624.3L1318.3 631.9L1327.1 634.4L1330.3 638.9L1339.7 635.6L1351 636.9L1361 641.4L1397.5 629.8L1406.3 631.4L1408.3 634.9L1418.4 634.9L1421.4 630.6L1435.3 626.8L1432.8 619.3L1432.8 611.7L1437.8 604.2L1447.8 599.9L1456.2 607.9L1465 607.9L1468 594.1L1457.2 591.6L1456.2 586.6L1476.8 582.8L1493.1 581.5L1504.5 581.5L1514.5 576L1505.7 572L1484.3 572.7L1451.6 577.8L1447.8 574L1436 568.9L1437.8 560.1L1432.8 550.6L1437.8 543.8L1447.8 536.7L1464.2 528.7L1478 524.2L1477.3 519.9L1461.7 514.8L1445.3 517.9L1434 524.9L1435.3 531.2L1399.5 548.3L1392 563.4L1398.8 570.2L1407.6 576.5L1398.8 587.8L1388.7 590.8L1384.9 606.7L1379.2 617.5L1366.1 616.3L1361 623.8L1349 623.8L1345.9 616.8L1338.4 605.4L1329.6 589.1L1322 582.3L1301.9 594.1L1288.1 597.1L1273.5 591.6L1270.5 581.5L1268.4 568.9L1266.7 556.4L1275.5 550.1L1303.2 541.3L1323.3 530.4L1348.5 509.8L1368.6 495.5L1391.2 485.4L1413.9 475.3L1436.5 470.8L1452.9 471.6L1468.7 462.8L1489.4 463.3L1505.7 461.3L1523.3 465.8L1538.4 468.3L1527.1 472.1L1537.2 477.9L1546 474.8L1564.9 480.9L1590 482.9L1612.7 489.7L1632.8 496.5L1640.3 501.8L1639.8 507.8L1627.8 512.3L1612.7 514.8L1592.5 511.6L1563.6 506.8L1557.8 508.6L1574.9 516.1L1576.2 531.2L1597.6 537.5L1598.8 532.5L1595 528.7L1598.8 524.9L1625.2 530.7L1632.8 528.2L1626.5 521.1L1650.4 510.3L1658 510.3L1669.3 514.3L1675.1 508.6L1666.8 502.3L1671.8 494.7L1664.2 488.4L1693.2 491.7L1699.5 497.2L1686.9 499.8L1686.9 504.8L1694.4 508.6L1709.5 506L1712.1 499L1771.4 485.4L1777.7 486.7L1767.6 492.2L1781.5 494L1787.7 489.9L1807.9 489.7L1823 485.2L1833 490.9L1846.1 482.9L1838.6 475.8L1870.8 479.6L1893.4 485.4L1923.6 494.2L1929.9 488.4L1919.8 482.9L1918.6 480.9L1907.3 479.6L1910.3 475.1L1904 463.8L1922.9 454L1929.9 444.4L1937.5 441.9L1965.1 445.1L1967.7 450.7L1957.6 459.5L1963.9 462L1966.9 469.6L1965.1 483.9L1975.7 489.7L1972.7 496.5L1951.3 511.6L1963.9 514.1L1967.7 510.6L1978.5 508.1L1981.5 503.5L1991.1 496.7L1985.3 492.2L1989 483.9L1977.7 482.9L1975.2 477.9L1984 467L1970.9 459.5L1987.8 453.2L1986 444.4L1991.6 444.4L1997.8 449.9L1992.8 460.2L2004.1 462L1999.1 454.5L2011.7 451.4L2023 449.9L2038.1 449.4L2057.5 456.2L2048.2 446.9L2046.9 436.1L2064.5 433.6L2089.7 433.8L2112.3 432.6L2104 426.8L2115.4 420.5L2127.4 420L2145.8 416L2175.2 414.2L2179 411.2L2205.4 409.9L2214.2 412.9L2238.1 407.2L2256.3 406.7L2259.5 402.9L2268.3 398.6L2293.5 394.1L2311.1 397.3L2297.3 400.4L2321.2 402.9L2323.9 406.7L2332.7 404.1L2362.9 404.1L2385.6 409.2L2395.1 412.9L2391.8 419.2L2373 423.5L2354.1 427.5L2345.3 430.6L2373 434.8L2383 432.6L2388.1 439.4L2393.1 436.3L2409.5 434.8L2442.2 436.3L2445.4 441.4L2487.5 443.1L2488.7 434.8L2511.4 436.8L2527.7 436.8L2543.6 441.9L2549.1 448.2L2542.1 453.2L2555.4 460.8L2571.8 465.8L2581.8 454.5L2598.2 459.5L2615.8 456.5L2635.9 460L2643.5 457L2661.1 458.7L2653.5 448.2L2666.1 444.4L2712.7 448.2L2760.5 451.4L2768 456.2L2795.7 465L2837.2 462.8L2858.6 464.5L2866.7 469.1L2865.4 476.6L2878.7 479.6L2892.8 477.1L2911.6 476.6L2930.5 479.1L2950.6 477.9L2967.8 487.7L2980.3 483.9L2972.5 476.6L2977.1 472.8L3011 475.8L3031.2 475.1L3058.8 480.4L3075.7 485.4L3097.8 492.2L3126.8 502.8L3126.8 509.1L3133.8 511.6L3131.1 504L3159.5 505.3L3179.6 515.4L3168.3 519.9L3152.5 521.1L3151.4 530.7L3148.2 533L3138.1 532.5L3129.3 528.7L3116.7 526.2L3114.2 521.6L3106.7 519.9L3091.6 521.6L3087.8 517.9L3088.3 514.1L3077.7 516.1L3075.7 518.6L3081 522.9L3073.9 526.7L3062.6 529.9L3048.8 529.9L3057.6 534.5L3065.1 543.8L3070.2 548.8L3068.4 553.1L3047.5 550.6L3028.7 555.9L3011 560.1L2993.4 567.7L2973.3 577.3L2960.7 572L2935.6 579L2917.9 580.3L2905.4 579.8L2902.8 581.5L2890.3 595.4L2891.5 600.4L2901.6 601.7L2900.3 616.8L2891.5 617.3L2886.5 627.3L2890.3 631.1L2872.6 636.4L2870.1 642.9L2869.3 647.2L2852.9 650.2L2850.4 660.3L2835.3 669.8L2832.3 664L2827.8 647.7L2820.7 625L2820.9 624.3L2824.6 611.7L2833.9 604.9L2835.2 599.1L2851.1 596.6L2886.3 574L2906.4 565.2L2915.2 550.6L2902.6 551.3L2895.1 560.9L2869.9 571.5L2861.6 558.9L2834.7 562.7L2808.3 579L2817.1 586.1L2799.5 588.6L2778.8 589.8L2777.6 582.8L2763 581L2750.4 586.1L2719 584L2685 587.1L2612 631.1L2627.7 633.1L2632.8 639.6L2642.8 642.1L2649.1 636.4L2660.4 637.1L2675.5 648.2L2676.3 657.7L2668 669.1L2666.7 680.4L2662.9 694.2L2647.8 709.3L2643.6 718.6L2608.8 748.3L2596.3 754.1L2588.7 754.6L2582.4 749.6L2567.3 757.9L2566.1 760.9L2562.3 760.9L2555.5 767.2L2554.7 774L2543.4 781L2533.4 785.3L2531.3 791.6L2537.1 794.1L2544.7 801.2L2551 810L2553.5 817.5L2553 828.3L2548.5 835.1L2539.7 836.9L2530.8 841.4L2522.5 842.2L2520.8 836.4L2523.3 830.1L2520.8 822.6L2518.3 817.5L2525.8 815.8L2520.8 808.7L2514.5 806.2L2509.5 808.2L2508.2 804.2L2504.4 802.4L2508.2 797.4L2510.7 789.1L2499.4 784.1L2485.6 786.6L2471.7 793.6L2465.9 794.9L2471.7 790.6L2469.2 786.1L2477.5 779L2472.5 773.5L2461.6 778L2451.6 784.1L2445.3 791.6L2434 792.4L2429.7 796.6L2437.7 805.7L2444 806.7L2444.8 810L2454.1 813.8L2462.9 806.2L2471.7 810L2479.3 810.7L2481 815.8L2466.7 818.8L2460.4 825.1L2450.3 830.1L2445.8 835.9L2456.6 841.4L2458.4 847.7L2461.6 855.3L2466.7 862.8L2475 870.4L2474.7 877.2L2468.4 880.4L2471.7 886.7L2476.7 889.2L2475.5 896.8L2473 905.6L2466.7 906.3L2458.4 919.4L2454.1 929.5L2441.5 944.6L2412.6 961.7L2400 963.5L2391.4 964.7L2381.4 971.5L2371.3 974.7L2360 976.5L2357.5 986.6L2351.2 986.6L2349.2 979.5L2350.7 975.7L2336.1 972.7L2329.8 975.2L2318.5 982.3L2310.9 990.3L2306.6 999.6L2316 1013L2324.8 1025L2333.6 1030.6L2341.1 1039.4L2345.6 1058.3L2344.4 1076.6L2333.6 1083.4L2323.5 1089.7L2313.4 1098.5L2301.4 1108.1L2297.8 1101L2300.4 1093.5L2294.6 1089.7L2285.8 1087.7L2280.7 1082.2L2275.7 1070.8L2268.1 1067.1L2258.1 1065.8L2258.1 1058.8L2249.3 1058.8L2248 1070.8L2244.2 1082.2L2240.5 1093.5L2240.5 1101L2247.5 1101.8L2250.5 1108.6L2253.8 1120.7L2258.1 1125.7L2264.4 1127.5L2270.7 1133.8L2278.2 1140L2283.2 1147.6L2284 1155.1L2283.2 1160.2L2285.8 1167.7L2289.5 1172.8L2292.8 1181.6L2292.1 1183.6L2284.5 1184.1L2273.2 1175.3L2263.1 1168.5L2261.1 1162.7L2256.3 1156.9L2254.3 1148.3L2250.5 1142.1L2251.8 1135L2246.8 1128.2L2243 1122.4L2232.9 1111.6L2231.7 1116.6L2229.1 1111.9L2231.7 1103.6L2233.4 1095.5L2232.4 1087.2L2235.4 1078.4L2232.9 1073.4L2232.9 1063.3L2229.1 1055.7L2225.4 1040.6L2223.4 1030.1L2219.1 1021.8L2211.5 1026.8L2200.7 1034.9L2192.7 1033.6L2188.1 1031.1L2191.4 1020.5L2192.2 1015L2189.6 1007.4L2182.1 996.6L2183.1 993.3L2178.8 992.8L2172.5 986.6L2167.5 979L2165 970.2L2160 962.1L2149.9 961.4L2151.1 965.2L2147.9 971.5L2141.6 970.7L2135.3 968.9L2134 972.2L2124.7 972.7L2113.9 975.2L2114.7 982.8L2108.4 989.8L2094.5 996.1L2083.2 1006.7L2073.1 1014.2L2064.3 1021L2064.3 1026.1L2055.5 1030.1L2045.5 1033.1L2042.2 1040.6L2044.7 1058.3L2044.7 1063.3L2040.4 1073.4L2040.4 1089.2L2035.4 1090.2L2029.9 1099L2033.6 1102.3L2024.1 1104.8L2021.1 1110.6L2016 1114.9L2006 1105.3L1997.7 1081.7L1988.8 1067.1L1984.3 1046.9L1974.5 1031.8L1966.2 999.1L1967.5 987.8L1965.7 976.5L1950.3 982.8L1943.6 981.5L1929.7 968.9L1934.7 964.7L1932.2 960.1L1920.9 951.8L1912.1 948.8L1908.2 941.6L1900.7 934L1881.8 935.8L1864.2 936.5L1850.4 937.5L1835.3 935.3L1821.4 932.8L1808.3 931.5L1806.3 924.5L1803.8 918.9L1798.8 916.4L1791.2 918.2L1781.2 923.2L1768.6 920.2L1757.3 912.4L1748.5 909.4L1742.2 901.3L1737.1 893L1734.6 888.7L1728.3 887.2L1721.3 883.7L1718.3 888.7L1712 889.2L1714.5 898L1720.3 911.9L1725.3 914.4L1732.1 920.7L1734.6 924.5L1733.4 930.8L1737.1 935.8L1740.4 941.6L1740.9 932L1743.9 927.5L1748.5 930.8L1748.5 939.1L1745.9 944.6L1750.5 948.9L1757.3 947.1L1773.6 947.6L1791.2 930.8L1798.3 924.5L1796.8 933.3L1798.8 940.8L1803.8 947.1L1808.8 950.1L1821.4 953.4L1826.5 959.7L1831.5 964L1831.5 968.5L1825.2 977.3L1819 986L1814 986.6L1810.7 994.1L1812.7 1001.1L1806.4 1001.6L1799.6 1005.9L1797.5 1009.8L1787.8 1013.1L1786.2 1017.3L1778.1 1021.2L1756.9 1027.7L1753.7 1035.8L1726.1 1045.6L1711.5 1052.1L1695.2 1058.6L1685.5 1060.9L1674.1 1065.1L1663.4 1066L1661.1 1052.1L1656.9 1039.1L1657.9 1029.3L1653 1018L1644.9 1009.8L1638.4 996.9L1628.6 987.1L1620.5 974.1L1618.9 961.1L1610.7 948.1L1599.4 940L1592.3 928.2L1578.5 909.4L1574.7 905.6L1576.5 891.8L1572.2 896.8L1569.7 908.1L1565.4 911.1L1558.3 904.3L1549.5 889.2L1554.6 900.6L1562.1 913.1L1570.9 928.2L1579.7 943.3L1583.1 949.7L1581.5 956.2L1594.5 967.6L1598.4 974.1L1597.8 980.6L1600.4 993.6L1604.3 1003.3L1613.3 1009.8L1617.2 1018L1622.1 1029.3L1631.9 1037.5L1643.2 1045.6L1653 1055.3L1663.4 1065.1L1661.1 1073.2L1656.9 1075.8L1666 1082.9L1671.8 1089.4L1682.2 1087.8L1698.5 1084.6L1714.7 1080.3L1730.9 1076.4L1740 1072.2L1743.9 1073.8L1743.3 1087.8L1737.4 1105.7L1729.3 1121.9L1719.6 1138.8L1708.2 1154.4L1695.2 1167.4L1682.2 1177.2L1669.2 1186.9L1659.5 1196.6L1649.7 1209.6L1638.4 1217.8L1631.9 1224.3L1630.2 1232.4L1623.7 1242.1L1617.9 1250.2L1615.6 1260L1617.9 1266.5L1623.1 1271.4L1620.5 1284.4L1628.6 1300.6L1632.8 1307.1L1633.5 1320.1L1635.1 1334.7L1636.7 1348.7L1631.9 1359.1L1623.7 1370.4L1602.6 1379.2L1584.8 1393.2L1575 1402.9L1574.9 1402.1L1572.9 1409.2L1578.5 1417.4L1581.7 1425.5L1582.7 1433.6L1581.7 1440.1L1583.3 1443.3L1578.5 1448.9L1570.3 1453.1L1557.4 1458L1551.5 1463.8L1555.7 1468.4L1553.5 1477.5L1550.9 1488.8L1547.6 1494.4L1537.9 1501.8L1531.4 1509.9L1523.2 1520.3L1511.9 1530.1L1503.8 1536.6L1495.6 1540.8L1482.6 1545L1481 1548L1476.1 1546.3L1470.3 1548.3L1459.9 1546.7L1448.5 1547.3L1437.2 1551.5L1429 1553.2L1422.5 1557.1L1417.7 1557.1L1414.4 1553.8L1407.9 1552.2L1404 1548.3L1404 1540.8L1399.8 1534.3L1404 1532.7L1404 1524.6L1394.9 1509.9L1384.2 1492.1L1377.1 1484.6L1372.2 1476.5L1368.9 1462.8L1365.7 1449.8L1363.4 1438.5L1363.1 1426.1ZM3324.1 987.6L3331.7 989.6L3336 995.3L3327.5 1001.9L3323.2 999.6L3321.8 993.9ZM3309.5 978.2L3314.7 978.2L3323.2 982.5L3320.4 984.8L3313.2 981.1ZM3299 974L3302.4 972.8L3306.1 976.2L3301.8 978.2ZM3283.9 968.3L3286.2 966.9L3288.5 968.8L3287 971.1L3284.5 970.6ZM170.6 1945.1L182 1945.1L239 1947.9L324.4 1952.2L405 1955.9L415.5 1957.1L427.5 1961.6L439.7 1960.8L455.4 1957.3L481 1953.6L506.6 1950.2L516.6 1946.5L520.9 1939.4L518 1930.9L512.3 1922.3L508 1913.8L512.3 1906.7L518 1899.5L513.7 1893.3L523.7 1885.3L540.8 1875.3L552.2 1869.6L563.6 1864.8L580.7 1859.1L594.9 1855.4L603.4 1853.4L616.3 1851.1L623.9 1853.4L617.7 1857.7L603.4 1861.7L594.9 1859.7L580.7 1863.1L570.7 1869.6L568.7 1876.2L572.1 1881L563.6 1883.9L547.9 1889.6L537.9 1896.7L540.2 1902.4L549.3 1908.1L562.2 1913.8L568.7 1919.5L576.4 1928L580.7 1936.6L582.1 1946.5L586.4 1953.6L579.2 1962.2L567.8 1967.3L555 1973L532.3 1978.7L495.2 1985L486.7 1988.7L455.4 1989.2L416.9 1990.7L420.6 1994.1L449.7 1999.2L453.9 2002L444 2004.9L424 2005.5L409.8 2008.3L408.4 2014.9L421.2 2019.1L425.5 2023.4L452.5 2029.1L481 2033.4L506.6 2037.6L537.9 2040.5L575 2044.8L594.9 2047.6L604.9 2051.9L613.4 2057.6L620.5 2053.3L666.1 2046.2L703.1 2041.9L740.1 2041.9L772.9 2045.6L780 2040.5L794.2 2037.1L822.7 2036.2L859.7 2031.9L881.9 2030.5L904.8 2030L920.4 2027.1L909.1 2020.6L907.6 2016.3L882 2017.7L865.4 2018.6L846.9 2017.7L844.1 2012L845.5 2006.3L859.7 2002.6L881.9 1999.2L904.8 1994.9L917.6 1989.2L953.2 1985L981.7 1983.5L1010.1 1977.8L1032.9 1973L1044.3 1969.3L1052.9 1967L1056.3 1962.2L1044.9 1960.2L1048.6 1955.9L1055.7 1953.1L1075.6 1949.4L1087 1945.9L1095.6 1941.7L1101.3 1936.6L1108.4 1933.1L1121.2 1933.7L1126.3 1937.4L1138.3 1938L1138.9 1933.7L1144.5 1930L1155.4 1930.9L1158.2 1935.1L1169.6 1936L1183.8 1933.7L1195.2 1932.3L1208 1932.8L1213.2 1938L1215.7 1936.6L1223.7 1933.7L1237.9 1931.7L1257.9 1928.6L1272.1 1926L1287.8 1922.9L1294.9 1918.9L1302.9 1921.7L1313.4 1920.3L1327.6 1929.4L1339 1927.4L1344.7 1922.9L1353.3 1920.3L1367.5 1920.9L1371.8 1924.6L1378.9 1920.9L1391.7 1919.5L1414.5 1918.9L1435.9 1920.9L1448.1 1927.4L1460.1 1925.2L1480 1924.6L1494.2 1924.3L1517 1921.7L1534.1 1918L1546.9 1916L1554.6 1913.2L1559.2 1908.1L1565.4 1905.2L1576.8 1906.1L1581.9 1909.5L1589.1 1912.3L1599.1 1911.8L1607.6 1916L1614.7 1918.6L1624.7 1916L1629 1910.9L1648.9 1905.8L1671.7 1902.4L1695.9 1895.8L1705.9 1897.3L1721.5 1890.4L1731.5 1891L1739.5 1888.7L1742.9 1883.9L1755.7 1880.5L1767.1 1878.2L1778.5 1877L1789.9 1877.6L1798.4 1879L1805.5 1881.6L1807 1886.1L1821.2 1891.8L1835.4 1893.8L1848.2 1898.7L1859.6 1899.5L1868.2 1897.3L1876.7 1893.3L1888.1 1896.1L1900.9 1898.1L1928 1899L1936 1908.9L1934.5 1916.6L1923.7 1919.5L1915.7 1923.7L1918 1927.4L1928.8 1929.4L1925.1 1935.1L1917.4 1940.3L1925.1 1943.1L1936.5 1944.2L1948.8 1942.2L1959.3 1933.7L1970.7 1928L1978.4 1920L1992.1 1918.6L2006.3 1916.6L2017.7 1914.6L2027.6 1904.7L2037.6 1901.8L2051.9 1898.1L2060.4 1894.4L2070.4 1891.8L2080.3 1893L2100.3 1890.4L2112.2 1891L2120.2 1886.7L2123.9 1881.6L2133 1888.7L2141.6 1891L2151.5 1891.8L2162.9 1890.4L2177.1 1891.6L2190 1890.4L2204.2 1893.8L2219.9 1892.4L2234.1 1890.4L2245.5 1891.8L2258.3 1884.7L2268.3 1879.6L2276.8 1874.5L2281.9 1875.9L2290.5 1879L2301.9 1885.3L2311.9 1889L2331.8 1889L2353.2 1886.1L2368.9 1880.5L2381.7 1879.6L2388.8 1877.6L2397.3 1879.6L2409.6 1885.9L2421.5 1885.3L2431.5 1888.7L2441.5 1891L2452.9 1891.8L2464.2 1891L2478.5 1884.4L2488.5 1883.9L2507 1886.1L2518.4 1884.4L2532.6 1885.3L2545.4 1886.7L2563.9 1883.3L2586.7 1882.4L2607.2 1880.5L2610 1876.2L2610.9 1871.9L2617.4 1874.8L2620.9 1881L2626.6 1886.7L2635.1 1888.7L2660.7 1887.6L2694.9 1886.7L2717.7 1888.1L2725.7 1891.8L2724.8 1896.7L2737.6 1900.1L2751.9 1903.2L2765.8 1905.5L2783.2 1907.5L2794.6 1908.9L2803.1 1908.6L2808.8 1905.8L2820.2 1909.5L2834.4 1913.8L2860.1 1916L2865.2 1920L2875.7 1922.9L2885.7 1926.6L2897.1 1928L2931.3 1928L2948.3 1929.4L2971.1 1934.3L2981.9 1938L2981.9 1942.2L2976.8 1946.5L2965.4 1957.9L2949.8 1960.2L2942.6 1963.6L2931.3 1965.6L2922.7 1971.3L2911.3 1976.4L2905.6 1982.1L2903.6 1990.7L2905.6 1994.9L2909.9 1997.8L2912.7 2002L2917 2004.9L2936.9 2006.3L2940.4 2010.6L2925.6 2012.6L2902.8 2014.9L2885.7 2016.3L2878.6 2021.1L2874.3 2028.2L2866.3 2033.9L2880 2036.8L2887.1 2041.9L2902.8 2047L2925.6 2052.7L2959.7 2058.4L2965.4 2063.3L2981.9 2064.7L2994.8 2066.1L3005.4 2070.4L3033.3 2067L3056 2070.4L3076 2073.2L3085.1 2067L3103.9 2070.4L3115.8 2066.1L3132.9 2071.2L3148.6 2065.5L3178.5 2063.8L3209.8 2071.8L3232.6 2074.1L3261.1 2078.4L3300.9 2080.9L3332.3 2077.5L3375 2079.5L3400.6 2083.2L3426.2 2080.4L3456.1 2076.7L3459 2071.2L3417.7 2070.4L3386.4 2067.5L3375 2063.3L3347.9 2061.3L3350.8 2056.1L3357.9 2048.2L3355 2044.2L3337.9 2041.3L3328 2036.8L3315.2 2034.8L3339.4 2035.6L3363.6 2033.9L3377.8 2037.6L3392.1 2035.6L3412 2031.1L3422 2026.8L3417.7 2022L3403.4 2019.1L3389.2 2016.3L3366.4 2015.4L3330.8 2012.9L3322.3 2009.2L3312.3 2006.3L3301.8 2002L3298.7 1991.5L3312.3 1995.8L3346.5 1992.9L3355 1997.8L3372.1 1996.4L3389.2 1993.5L3409.1 1988.7L3424.8 1987L3424.8 1983.5L3421.4 1979.3L3424.8 1975.6L3437.6 1973.6L3443.9 1977.8L3460.4 1975.6L3471.8 1972.7L3500.3 1971.3L3517.3 1968.4L3537.3 1964.5L3554.3 1966.5L3568.5 1964.5L3582.8 1967L3597 1966.5L3609.8 1964.5L3639.7 1967.3L3665.4 1966.5L3688.1 1967.3L3696.7 1966.5L3709.5 1963L3720.9 1961.6L3733.7 1964.2L3745.1 1962.2L3757.9 1958.8L3765 1962.2L3769.3 1965.6L3775 1969.3L3785 1965.9L3796.3 1970.2L3810.6 1971.6L3823.4 1974.4L3839.1 1973.6L3851.9 1971.3L3873.2 1972.1L3895.4 1975.6L3898.9 1972.1L3886 1963.6L3871.8 1962.2L3866.1 1955.1L3863.3 1947.4L3881.8 1949.4L3902.3 1947.9L3915.9 1947.9L3930 2200L150 2200ZM439.7 1939.4L442.6 1936L456.8 1932.3L469.6 1932.3L473.9 1925.2L473.9 1916.6L479.6 1910.9L489.5 1908.6L495.2 1912.3L503.8 1922.3L508.9 1933.7L506.6 1940.8L500.9 1943.7L481 1946.5L468.2 1946.5L471 1942.2L455.4 1944.5L444 1943.7ZM530.8 2026.2L549.3 2027.7L575 2027.7L589.2 2019.7L599.2 2024.3L596.3 2034.8L575 2033.4L547.9 2033.4L537.9 2030.5ZM654.7 2027.7L666.1 2024.3L686 2019.7L694.6 2014.3L703.1 2007.7L713.1 2003.5L733 2001.2L747.2 2003.5L760.1 2008.3L765.8 2014.9L767.2 2023.4L743 2027.7L717.3 2031.9L694.6 2034.8L671.8 2033.4L657.5 2030.5ZM3244 2009.2L3249.7 2005.5L3268.2 2007.2L3281 2010.6L3288.1 2014.3L3289.5 2018.6L3271 2020.6L3256.8 2016.3ZM3619.9 1956.5L3627 1954.2L3654 1960.8L3636.9 1957.9ZM3668.2 1956.5L3671.1 1954.5L3688.1 1957.1L3708.6 1955.9L3699.5 1960.8L3685.3 1962.2L3673.9 1960.2ZM3877.5 1940L3884.6 1938L3915.9 1940.8L3915.9 1945.7L3887.5 1945.1L3880.4 1942.2Z"/><path id="seapath" d="M1697.4 736.2L1708.2 724.9L1717 723.2L1722 716.9L1730.8 714.9L1744.7 710.1L1752.2 713.1L1763.6 712.3L1765.6 719.4L1763.6 730L1754.7 728.2L1745.4 730L1745.2 737L1734.6 736.5L1734.6 739.5L1740.9 742.5L1745.9 751.3L1757.3 755.1L1759.8 758.4L1756.5 763.9L1761 772.7L1762.3 764.2L1769.8 761.7L1773.6 768L1781.2 774L1772.4 777.8L1762.3 775.5L1759.3 783.6L1766.6 784.1L1763.6 791.1L1772.4 794.1L1771.1 806.2L1772.9 813.8L1771.1 815.5L1754.7 818.3L1740.9 816.8L1732.6 811.2L1722.8 808.7L1719.5 799.9L1719.5 796.1L1723.3 793.6L1725.8 787.3L1727.6 782.3L1735.9 781L1728.3 778.5L1718.3 767.2L1705.7 753.9L1706.2 747.1Z"/></defs><use href="#landpath" style="fill:#FFF1E1;stroke:none"/><use href="#seapath" style="fill:#fff;stroke:none"/><path d="M696.9 553.8L699.2 553L703.1 559.2L706.9 563L716.1 567.6L726.1 570.7L724.6 573.8L718.4 575.3L711.5 574.5L705.4 570.7L700 565.3L697.2 559.9ZM728 572.2L733 571.5L736.9 572.2L737.7 576.1L733.8 577.6L734.6 580.7L731.5 583L728.4 578.4ZM740.9 580.7L740.2 581.9L738.8 581.9L738.1 580.7L738.8 579.5L740.2 579.5ZM748.4 586.1L753.8 581.5L759.2 579.9L769.2 580.4L772.2 582.2L784.5 582.2L787.6 584.5L796.8 585L801.5 587.3L808.4 588.1L807.6 589.9L799.9 592.7L793.8 593L789.9 596.1L773.8 596.1L770.7 593.8L766.9 596.1L762.3 596.4L759.2 593L753.8 592.2ZM921.4 506.1L924.5 502.3L930.6 499.2L938.3 497.7L946 495.4L953.7 491.5L972.9 491.2L976.7 495.4L972.9 500L966 500.4L959.8 504.6L950.6 505.7L944.4 506.9L939.1 510.7L932.9 511.2L929.1 508.4L922.9 508.1ZM771.5 679.1L773.8 677.2L776.9 678.3L780.7 682.2L784.5 684.5L788.4 686.8L787.6 690.6L783.8 691.4L779.2 688.3L774.6 683.7ZM949.4 681.4L952.1 679.6L955.2 680.6L956 684.5L958 687.1L955.2 689.1L951.4 686.8ZM967.5 691.4L970.6 689.9L974 691.4L974 695.2L970.9 696.8L967.5 695.2ZM1246.6 560.1L1249.1 558.4L1252.8 560.1L1253.3 565.2L1257.4 570.2L1258.6 577.8L1256.6 582.8L1249.1 583.3L1242.8 577.8L1242 572.7L1246.6 567.7ZM810.1 1578.1L815.3 1573.3L815.7 1569.7L826.9 1558.5L839 1558.5L840.2 1560.5L840.2 1565.3L842.4 1567.3L842.4 1576.5L840 1578.5L839.8 1588.6L842.2 1591L842.2 1596.2L860.2 1613.8L860.2 1620.6L859 1621.8L839.8 1621.8L837.8 1619L832.1 1619L815.7 1602.6L815.3 1599.4L812.9 1597L812.5 1594.2L810.1 1591.8ZM843.8 1554.9L847.4 1550.7L859.8 1550.7L861.8 1552.9L864.2 1552.9L868.2 1557.3L864.2 1562.1L853 1562.1L850.6 1559.3L847.8 1559ZM498.1 1829.8L506.6 1822.6L518 1818.4L526.6 1810.7L537.9 1805.6L545.1 1797L555 1790.8L563.6 1792.7L566.4 1798.4L560.7 1805.6L552.2 1810.7L549.3 1817L563.6 1812.7L577.8 1807L589.2 1807.8L592.1 1804.1L600.6 1804.1L602.9 1812.7L603.4 1821.2L592.1 1822.6L577.8 1826.9L560.7 1829.8L546.5 1828.3L528 1831.2L523.7 1828.3L519.4 1834.6L506.6 1834.6ZM526.6 1858.2L537.9 1854L552.2 1854L569.3 1849.7L592.1 1847.7L600.6 1850.6L604.9 1854L594.9 1858.2L577.8 1856.8L563.6 1858.2L549.3 1861.9L532.3 1863.1ZM513.7 1902.4L520.9 1896.1L528 1898.1L529.4 1905.2L535.1 1909.5L532.3 1912.3L520.9 1909.5ZM528.8 1886.7L532.3 1885.3L531.7 1891.6ZM539.4 1878.2L546.5 1876.8L545.9 1881ZM555 1869.6L562.2 1868.2L559.3 1873.3ZM432.2 1756.5L435.1 1750.8L440.8 1749.4L442.2 1756.5L436.5 1758.5ZM444.5 1762.2L443.6 1763.7L441.9 1763.7L441.1 1762.2L441.9 1760.7L443.6 1760.7ZM429.4 1756.5L428.7 1757.7L427.3 1757.7L426.6 1756.5L427.3 1755.3L428.7 1755.3ZM1839.3 1665.9L1841.6 1656.1L1844.9 1652.2L1862.7 1652.2L1865.3 1644.8L1874.1 1643.8L1881.2 1649.6L1877.3 1657.8L1869.9 1658.7L1866 1665.9L1867.6 1674L1867.6 1685.4L1864.4 1690.2L1854.6 1690.9L1853 1695.1L1844.9 1688.6L1840.6 1678.9ZM1891 1898.7L1900.9 1897.5L1936.5 1897.5L1940.2 1902.4L1936.5 1905.2L1906.6 1904.4L1895.2 1901ZM2014.8 1901L2019.1 1897.5L2029.1 1896.7L2034.8 1889.6L2049 1884.7L2086 1883.9L2088.9 1881L2106 1879L2141.6 1879L2144.4 1882.4L2157.2 1879.6L2168.6 1880.2L2185.7 1876.8L2208.5 1876.8L2215.6 1879.6L2212.7 1883.9L2204.2 1885.3L2201.4 1889.6L2185.7 1893.8L2174.3 1898.1L2148.7 1901L2144.4 1906.7L2133 1908.6L2123 1905.2L2110.2 1904.7L2103.1 1910.9L2096 1912.3L2088.9 1908.1L2071.8 1908.1L2066.1 1916L2049 1918L2037.6 1915.2L2030.5 1912.3L2024.8 1903.8ZM2227 1875.3L2234.1 1871.9L2258.3 1871.9L2262.6 1875.3L2275.4 1875.3L2271.1 1882.4L2264 1883.9L2256.9 1879L2234.1 1878.2ZM2487 1889.6L2507 1886.7L2519.8 1885.3L2514.1 1891.6L2499.8 1893.8L2492.7 1893.3ZM2518.4 1890.1L2545.4 1889.6L2556.8 1891.6L2553.9 1896.7L2546.8 1895.3L2532.6 1896.7L2519.8 1893.8ZM2468.5 1891.8L2475.1 1893L2471.4 1894.7ZM2686.4 1889.6L2703.4 1889.6L2702.9 1892.4L2687.8 1891.8ZM2685.8 1905.2L2693.5 1900.4L2703.4 1899.5L2712 1896.7L2724.8 1895.3L2714.8 1901L2726.2 1904.7L2751.9 1905.2L2753.3 1907.5L2714.8 1907.5L2707.7 1906.7L2696.3 1910.4L2687.8 1907.5ZM2885.1 1967.3L2891.4 1969.3L2899.9 1969.9L2900.5 1972.1L2890 1972.7ZM2860.6 2019.7L2859.9 2020.9L2858.5 2020.9L2857.8 2019.7L2858.5 2018.5L2859.9 2018.5ZM2512.6 1733.5L2515.9 1724.2L2519.6 1723.2L2525.7 1717.6L2526.1 1713.9L2531.8 1708.2L2543 1707.8L2544.9 1705.4L2553.8 1705.4L2555.6 1707.3L2559.8 1708.7L2560.8 1712.5L2563.1 1715.7L2566.4 1720.4L2574.8 1720.9L2576.2 1722.8L2575.7 1726L2571.1 1730.2L2569.2 1730.7L2563.1 1736.3L2562.6 1738.7L2559.8 1741.5L2559.8 1764.9L2557.5 1766.3L2556.6 1764.4L2555.2 1764.9L2555.6 1770L2560.3 1774.7L2560.3 1777.5L2563.1 1779.8L2562.6 1783.1L2556.6 1783.6L2553.8 1786.9L2550.5 1784.5L2545.3 1778.9L2537.4 1778.9L2533.6 1776.1L2532.2 1776.1L2526.1 1770.9L2523.8 1770.9L2519.6 1766.3L2518.2 1762.1L2517.7 1759.3L2514.9 1754.6L2512.6 1749ZM2543.5 1792.9L2545.3 1790.6L2546.3 1787.3L2547.7 1785.9L2551.4 1788.7L2558 1788.3L2560.8 1790.6L2563.1 1788.7L2566.4 1788.3L2586 1807.4L2586 1813.5L2584.6 1814.9L2572.5 1814.9L2571.1 1812.6L2566.9 1812.6L2563.6 1810.3L2555.2 1809.8L2546.7 1801.4L2545.6 1795.7ZM2787.3 1282.2L2792.9 1274.7L2796.6 1271.6L2804.2 1272.1L2808 1268.4L2813 1272.1L2818 1278.4L2821.8 1284.2L2823.1 1288.5L2820 1294.8L2814.2 1296L2809.2 1301.1L2804.9 1299.3L2800.4 1296L2795.4 1294.3L2792.4 1288.5ZM3024 1486.9L3026.5 1482.7L3038.4 1470.4L3043 1467.7L3052.3 1467.3L3053.8 1465.1L3062.3 1465.1L3064.2 1462.5L3068 1462.5L3070 1465.1L3075.7 1465.4L3077.6 1467.3L3081.5 1467.7L3082.6 1471.1L3089.9 1479.2L3090.7 1486.9L3092.6 1490.4L3089.2 1497.3L3087.6 1499.2L3086.9 1504.2L3083.4 1504.6L3081.5 1509.6L3075.7 1510L3070 1515.3L3071.9 1519.2L3083.4 1519.4L3084.9 1521.1L3083.8 1525.7L3082.3 1526.9L3082.3 1532.6L3080.7 1534.2L3072.6 1534.6L3070.7 1536.5L3053.8 1536.5L3050.7 1533.4L3046.1 1531.9L3033.8 1522.6L3026.5 1516.5L3026.5 1511.9L3024 1509.6ZM3048.6 1493.3L3057.3 1484.2L3064.2 1484.2L3072.6 1493L3072.6 1496.1L3069.2 1496.4L3067.6 1498.8L3054.6 1498.8ZM3050.4 1509.6L3051.5 1508.4L3053.8 1510L3061.5 1510L3064.2 1512.6L3066.9 1513L3069.6 1515.3L3066.9 1519.2L3062.7 1521.9L3060.7 1519.9L3060 1517.3L3057.3 1516.5ZM3088.4 1521.1L3090.3 1519.4L3093.8 1519.4L3095.3 1521.1L3095.3 1524.6L3093.4 1526.5L3090.3 1526.5L3088.4 1524.2ZM3097.2 1517.6L3099.9 1516.5L3102.6 1517.6L3103.4 1520.7L3101.9 1522.6L3098 1522.6L3097 1520.7ZM3102.6 1514.6L3104.2 1514.2L3105.3 1515.7L3104.2 1517.6L3102.6 1516.9ZM3111.8 1516.5L3113.8 1514.6L3115.3 1516.1L3114.2 1518ZM3114.5 1510.3L3118.8 1506.1L3123.4 1508.8L3121.5 1511.1L3120.7 1514.2L3116.8 1515L3114.9 1513.4ZM3416.7 1565.7L3416.7 1559.6L3419.4 1557.2L3419.4 1551.6L3421.8 1549.4L3421.8 1547L3428.5 1540.3L3432.2 1540.3L3433.6 1541.7L3433.6 1552.1L3436 1554.2L3436 1558L3439.5 1561.2L3442.7 1561.2L3447.2 1565.7L3452.6 1565.7L3455.5 1568.7L3458.2 1568.7L3460.6 1571.1L3463.3 1571.1L3465.4 1573.2L3473.7 1573.2L3476.6 1576.4L3478.8 1576.4L3480.4 1578L3480.4 1581.5L3478.8 1583.1L3457.4 1583.1L3452.6 1587.9L3444.3 1587.9L3442.7 1586.3L3442.7 1581L3441.1 1580.2L3439.5 1582.3L3436.8 1582.6L3434.1 1585L3428.5 1579.6L3425.8 1579.6L3424.8 1578.6L3424.8 1576.1L3419.7 1571.1L3419.7 1568.1ZM3692.6 1754.2L3701.5 1744.9L3703.9 1744.9L3708.1 1741.6L3710.4 1741.6L3712.8 1739.3L3718.8 1739.3L3719.3 1735.5L3720.7 1733.6L3724 1736.9L3731 1736.9L3732.4 1732.7L3733.8 1731.8L3739.9 1731.8L3741.8 1734.1L3743.2 1732.2L3743.2 1727.6L3745.5 1725.7L3748.3 1726.6L3751.6 1729.9L3751.6 1736L3747.4 1740.2L3742.7 1740.2L3741.3 1741.6L3741.3 1743.9L3736.1 1749.5L3735.7 1752.4L3732.4 1753.3L3726.8 1758.4L3709.9 1758.4L3707.6 1755.6L3694 1755.6ZM3762.4 1699.5L3767.5 1694.5L3770.3 1694.5L3775 1699.5L3770.3 1704.4L3767 1704.4ZM3778.3 1697.1L3782.5 1692.5L3793.7 1692.5L3796.5 1695.3L3798.9 1695.3L3804.5 1700.9L3809.6 1700.4L3813.4 1704.2L3816.2 1702.8L3818.5 1704.8L3821.3 1702.6L3824.6 1702.6L3827.4 1705.6L3830.2 1705.6L3839.1 1714.9L3839.1 1717.7L3854.1 1732.2L3854.5 1735.5L3857.8 1739.3L3861.6 1739.7L3862.5 1743.9L3865.3 1746.3L3862.5 1749.1L3861.6 1752.4L3857.8 1752.8L3855 1755.6L3849.4 1755.6L3848.4 1753.3L3851.7 1750.7L3855 1750L3854.8 1748.1L3850.3 1748.1L3847.5 1750.7L3844.7 1750.7L3841 1748.1L3836.3 1748.1L3835.3 1746.3L3840.5 1741.6L3839.1 1739.7L3835.3 1739.4L3833.5 1737.8L3826 1737.8L3824.1 1735.5L3818 1742.1L3820.4 1745.8L3824.6 1746.3L3827.4 1749.5L3829.7 1749.5L3834.9 1754.7L3838.2 1752.4L3842.8 1752.4L3846.6 1756.1L3843.8 1758.9L3843.8 1762.2L3840.5 1765.9L3833.5 1765.9L3831.1 1764.5L3830.2 1771.1L3823.2 1771.1L3817.6 1764.5L3819.9 1762.2L3819.9 1757L3817.6 1753.3L3817.6 1750.9L3814.8 1750L3811.5 1748.1L3809.6 1752.4L3808.7 1754.7L3810.5 1756.6L3810.5 1762.2L3806.8 1765.9L3801.2 1765.9L3798.4 1768.7L3793.7 1768.7L3791.4 1771.1L3779.2 1771.1L3778.7 1768.7L3780.6 1766.9L3781.1 1764.1L3783.9 1761.2L3783.9 1755.6L3785.3 1754.2L3789 1758L3791.8 1755.6L3791.8 1753.3L3794.2 1751.4L3794.2 1720.5L3797 1717.3L3797 1714L3799.8 1711.2L3803.5 1710.2L3804.5 1707.9L3800.7 1707L3792.8 1699L3779.7 1699ZM3861.1 1756.6L3865.8 1751.9L3867.2 1753.3L3867.2 1760.3L3865.8 1761.2ZM3876.5 1764.1L3881.2 1759.4L3886.8 1759.4L3888.5 1761.2L3884 1765.9L3877.9 1765.9ZM3716.5 1781.8L3720.7 1777.4L3731.5 1777.4L3733.3 1779.5L3729.1 1784L3725.9 1784.2L3723 1787L3720.7 1787Z" fill="#FF8000" fill-rule="evenodd" stroke="#2FD8E8" stroke-width="2.6" stroke-linejoin="round"/><path d="M696.9 553.8L699.2 553L703.1 559.2L706.9 563L716.1 567.6L726.1 570.7L724.6 573.8L718.4 575.3L711.5 574.5L705.4 570.7L700 565.3L697.2 559.9ZM728 572.2L733 571.5L736.9 572.2L737.7 576.1L733.8 577.6L734.6 580.7L731.5 583L728.4 578.4ZM740.9 580.7L740.2 581.9L738.8 581.9L738.1 580.7L738.8 579.5L740.2 579.5ZM748.4 586.1L753.8 581.5L759.2 579.9L769.2 580.4L772.2 582.2L784.5 582.2L787.6 584.5L796.8 585L801.5 587.3L808.4 588.1L807.6 589.9L799.9 592.7L793.8 593L789.9 596.1L773.8 596.1L770.7 593.8L766.9 596.1L762.3 596.4L759.2 593L753.8 592.2ZM921.4 506.1L924.5 502.3L930.6 499.2L938.3 497.7L946 495.4L953.7 491.5L972.9 491.2L976.7 495.4L972.9 500L966 500.4L959.8 504.6L950.6 505.7L944.4 506.9L939.1 510.7L932.9 511.2L929.1 508.4L922.9 508.1ZM771.5 679.1L773.8 677.2L776.9 678.3L780.7 682.2L784.5 684.5L788.4 686.8L787.6 690.6L783.8 691.4L779.2 688.3L774.6 683.7ZM949.4 681.4L952.1 679.6L955.2 680.6L956 684.5L958 687.1L955.2 689.1L951.4 686.8ZM967.5 691.4L970.6 689.9L974 691.4L974 695.2L970.9 696.8L967.5 695.2ZM1246.6 560.1L1249.1 558.4L1252.8 560.1L1253.3 565.2L1257.4 570.2L1258.6 577.8L1256.6 582.8L1249.1 583.3L1242.8 577.8L1242 572.7L1246.6 567.7ZM810.1 1578.1L815.3 1573.3L815.7 1569.7L826.9 1558.5L839 1558.5L840.2 1560.5L840.2 1565.3L842.4 1567.3L842.4 1576.5L840 1578.5L839.8 1588.6L842.2 1591L842.2 1596.2L860.2 1613.8L860.2 1620.6L859 1621.8L839.8 1621.8L837.8 1619L832.1 1619L815.7 1602.6L815.3 1599.4L812.9 1597L812.5 1594.2L810.1 1591.8ZM843.8 1554.9L847.4 1550.7L859.8 1550.7L861.8 1552.9L864.2 1552.9L868.2 1557.3L864.2 1562.1L853 1562.1L850.6 1559.3L847.8 1559ZM498.1 1829.8L506.6 1822.6L518 1818.4L526.6 1810.7L537.9 1805.6L545.1 1797L555 1790.8L563.6 1792.7L566.4 1798.4L560.7 1805.6L552.2 1810.7L549.3 1817L563.6 1812.7L577.8 1807L589.2 1807.8L592.1 1804.1L600.6 1804.1L602.9 1812.7L603.4 1821.2L592.1 1822.6L577.8 1826.9L560.7 1829.8L546.5 1828.3L528 1831.2L523.7 1828.3L519.4 1834.6L506.6 1834.6ZM526.6 1858.2L537.9 1854L552.2 1854L569.3 1849.7L592.1 1847.7L600.6 1850.6L604.9 1854L594.9 1858.2L577.8 1856.8L563.6 1858.2L549.3 1861.9L532.3 1863.1ZM513.7 1902.4L520.9 1896.1L528 1898.1L529.4 1905.2L535.1 1909.5L532.3 1912.3L520.9 1909.5ZM528.8 1886.7L532.3 1885.3L531.7 1891.6ZM539.4 1878.2L546.5 1876.8L545.9 1881ZM555 1869.6L562.2 1868.2L559.3 1873.3ZM432.2 1756.5L435.1 1750.8L440.8 1749.4L442.2 1756.5L436.5 1758.5ZM444.5 1762.2L443.6 1763.7L441.9 1763.7L441.1 1762.2L441.9 1760.7L443.6 1760.7ZM429.4 1756.5L428.7 1757.7L427.3 1757.7L426.6 1756.5L427.3 1755.3L428.7 1755.3ZM1839.3 1665.9L1841.6 1656.1L1844.9 1652.2L1862.7 1652.2L1865.3 1644.8L1874.1 1643.8L1881.2 1649.6L1877.3 1657.8L1869.9 1658.7L1866 1665.9L1867.6 1674L1867.6 1685.4L1864.4 1690.2L1854.6 1690.9L1853 1695.1L1844.9 1688.6L1840.6 1678.9ZM1891 1898.7L1900.9 1897.5L1936.5 1897.5L1940.2 1902.4L1936.5 1905.2L1906.6 1904.4L1895.2 1901ZM2014.8 1901L2019.1 1897.5L2029.1 1896.7L2034.8 1889.6L2049 1884.7L2086 1883.9L2088.9 1881L2106 1879L2141.6 1879L2144.4 1882.4L2157.2 1879.6L2168.6 1880.2L2185.7 1876.8L2208.5 1876.8L2215.6 1879.6L2212.7 1883.9L2204.2 1885.3L2201.4 1889.6L2185.7 1893.8L2174.3 1898.1L2148.7 1901L2144.4 1906.7L2133 1908.6L2123 1905.2L2110.2 1904.7L2103.1 1910.9L2096 1912.3L2088.9 1908.1L2071.8 1908.1L2066.1 1916L2049 1918L2037.6 1915.2L2030.5 1912.3L2024.8 1903.8ZM2227 1875.3L2234.1 1871.9L2258.3 1871.9L2262.6 1875.3L2275.4 1875.3L2271.1 1882.4L2264 1883.9L2256.9 1879L2234.1 1878.2ZM2487 1889.6L2507 1886.7L2519.8 1885.3L2514.1 1891.6L2499.8 1893.8L2492.7 1893.3ZM2518.4 1890.1L2545.4 1889.6L2556.8 1891.6L2553.9 1896.7L2546.8 1895.3L2532.6 1896.7L2519.8 1893.8ZM2468.5 1891.8L2475.1 1893L2471.4 1894.7ZM2686.4 1889.6L2703.4 1889.6L2702.9 1892.4L2687.8 1891.8ZM2685.8 1905.2L2693.5 1900.4L2703.4 1899.5L2712 1896.7L2724.8 1895.3L2714.8 1901L2726.2 1904.7L2751.9 1905.2L2753.3 1907.5L2714.8 1907.5L2707.7 1906.7L2696.3 1910.4L2687.8 1907.5ZM2885.1 1967.3L2891.4 1969.3L2899.9 1969.9L2900.5 1972.1L2890 1972.7ZM2860.6 2019.7L2859.9 2020.9L2858.5 2020.9L2857.8 2019.7L2858.5 2018.5L2859.9 2018.5ZM2512.6 1733.5L2515.9 1724.2L2519.6 1723.2L2525.7 1717.6L2526.1 1713.9L2531.8 1708.2L2543 1707.8L2544.9 1705.4L2553.8 1705.4L2555.6 1707.3L2559.8 1708.7L2560.8 1712.5L2563.1 1715.7L2566.4 1720.4L2574.8 1720.9L2576.2 1722.8L2575.7 1726L2571.1 1730.2L2569.2 1730.7L2563.1 1736.3L2562.6 1738.7L2559.8 1741.5L2559.8 1764.9L2557.5 1766.3L2556.6 1764.4L2555.2 1764.9L2555.6 1770L2560.3 1774.7L2560.3 1777.5L2563.1 1779.8L2562.6 1783.1L2556.6 1783.6L2553.8 1786.9L2550.5 1784.5L2545.3 1778.9L2537.4 1778.9L2533.6 1776.1L2532.2 1776.1L2526.1 1770.9L2523.8 1770.9L2519.6 1766.3L2518.2 1762.1L2517.7 1759.3L2514.9 1754.6L2512.6 1749ZM2543.5 1792.9L2545.3 1790.6L2546.3 1787.3L2547.7 1785.9L2551.4 1788.7L2558 1788.3L2560.8 1790.6L2563.1 1788.7L2566.4 1788.3L2586 1807.4L2586 1813.5L2584.6 1814.9L2572.5 1814.9L2571.1 1812.6L2566.9 1812.6L2563.6 1810.3L2555.2 1809.8L2546.7 1801.4L2545.6 1795.7ZM2787.3 1282.2L2792.9 1274.7L2796.6 1271.6L2804.2 1272.1L2808 1268.4L2813 1272.1L2818 1278.4L2821.8 1284.2L2823.1 1288.5L2820 1294.8L2814.2 1296L2809.2 1301.1L2804.9 1299.3L2800.4 1296L2795.4 1294.3L2792.4 1288.5ZM3024 1486.9L3026.5 1482.7L3038.4 1470.4L3043 1467.7L3052.3 1467.3L3053.8 1465.1L3062.3 1465.1L3064.2 1462.5L3068 1462.5L3070 1465.1L3075.7 1465.4L3077.6 1467.3L3081.5 1467.7L3082.6 1471.1L3089.9 1479.2L3090.7 1486.9L3092.6 1490.4L3089.2 1497.3L3087.6 1499.2L3086.9 1504.2L3083.4 1504.6L3081.5 1509.6L3075.7 1510L3070 1515.3L3071.9 1519.2L3083.4 1519.4L3084.9 1521.1L3083.8 1525.7L3082.3 1526.9L3082.3 1532.6L3080.7 1534.2L3072.6 1534.6L3070.7 1536.5L3053.8 1536.5L3050.7 1533.4L3046.1 1531.9L3033.8 1522.6L3026.5 1516.5L3026.5 1511.9L3024 1509.6ZM3048.6 1493.3L3057.3 1484.2L3064.2 1484.2L3072.6 1493L3072.6 1496.1L3069.2 1496.4L3067.6 1498.8L3054.6 1498.8ZM3050.4 1509.6L3051.5 1508.4L3053.8 1510L3061.5 1510L3064.2 1512.6L3066.9 1513L3069.6 1515.3L3066.9 1519.2L3062.7 1521.9L3060.7 1519.9L3060 1517.3L3057.3 1516.5ZM3088.4 1521.1L3090.3 1519.4L3093.8 1519.4L3095.3 1521.1L3095.3 1524.6L3093.4 1526.5L3090.3 1526.5L3088.4 1524.2ZM3097.2 1517.6L3099.9 1516.5L3102.6 1517.6L3103.4 1520.7L3101.9 1522.6L3098 1522.6L3097 1520.7ZM3102.6 1514.6L3104.2 1514.2L3105.3 1515.7L3104.2 1517.6L3102.6 1516.9ZM3111.8 1516.5L3113.8 1514.6L3115.3 1516.1L3114.2 1518ZM3114.5 1510.3L3118.8 1506.1L3123.4 1508.8L3121.5 1511.1L3120.7 1514.2L3116.8 1515L3114.9 1513.4ZM3416.7 1565.7L3416.7 1559.6L3419.4 1557.2L3419.4 1551.6L3421.8 1549.4L3421.8 1547L3428.5 1540.3L3432.2 1540.3L3433.6 1541.7L3433.6 1552.1L3436 1554.2L3436 1558L3439.5 1561.2L3442.7 1561.2L3447.2 1565.7L3452.6 1565.7L3455.5 1568.7L3458.2 1568.7L3460.6 1571.1L3463.3 1571.1L3465.4 1573.2L3473.7 1573.2L3476.6 1576.4L3478.8 1576.4L3480.4 1578L3480.4 1581.5L3478.8 1583.1L3457.4 1583.1L3452.6 1587.9L3444.3 1587.9L3442.7 1586.3L3442.7 1581L3441.1 1580.2L3439.5 1582.3L3436.8 1582.6L3434.1 1585L3428.5 1579.6L3425.8 1579.6L3424.8 1578.6L3424.8 1576.1L3419.7 1571.1L3419.7 1568.1ZM3692.6 1754.2L3701.5 1744.9L3703.9 1744.9L3708.1 1741.6L3710.4 1741.6L3712.8 1739.3L3718.8 1739.3L3719.3 1735.5L3720.7 1733.6L3724 1736.9L3731 1736.9L3732.4 1732.7L3733.8 1731.8L3739.9 1731.8L3741.8 1734.1L3743.2 1732.2L3743.2 1727.6L3745.5 1725.7L3748.3 1726.6L3751.6 1729.9L3751.6 1736L3747.4 1740.2L3742.7 1740.2L3741.3 1741.6L3741.3 1743.9L3736.1 1749.5L3735.7 1752.4L3732.4 1753.3L3726.8 1758.4L3709.9 1758.4L3707.6 1755.6L3694 1755.6ZM3762.4 1699.5L3767.5 1694.5L3770.3 1694.5L3775 1699.5L3770.3 1704.4L3767 1704.4ZM3778.3 1697.1L3782.5 1692.5L3793.7 1692.5L3796.5 1695.3L3798.9 1695.3L3804.5 1700.9L3809.6 1700.4L3813.4 1704.2L3816.2 1702.8L3818.5 1704.8L3821.3 1702.6L3824.6 1702.6L3827.4 1705.6L3830.2 1705.6L3839.1 1714.9L3839.1 1717.7L3854.1 1732.2L3854.5 1735.5L3857.8 1739.3L3861.6 1739.7L3862.5 1743.9L3865.3 1746.3L3862.5 1749.1L3861.6 1752.4L3857.8 1752.8L3855 1755.6L3849.4 1755.6L3848.4 1753.3L3851.7 1750.7L3855 1750L3854.8 1748.1L3850.3 1748.1L3847.5 1750.7L3844.7 1750.7L3841 1748.1L3836.3 1748.1L3835.3 1746.3L3840.5 1741.6L3839.1 1739.7L3835.3 1739.4L3833.5 1737.8L3826 1737.8L3824.1 1735.5L3818 1742.1L3820.4 1745.8L3824.6 1746.3L3827.4 1749.5L3829.7 1749.5L3834.9 1754.7L3838.2 1752.4L3842.8 1752.4L3846.6 1756.1L3843.8 1758.9L3843.8 1762.2L3840.5 1765.9L3833.5 1765.9L3831.1 1764.5L3830.2 1771.1L3823.2 1771.1L3817.6 1764.5L3819.9 1762.2L3819.9 1757L3817.6 1753.3L3817.6 1750.9L3814.8 1750L3811.5 1748.1L3809.6 1752.4L3808.7 1754.7L3810.5 1756.6L3810.5 1762.2L3806.8 1765.9L3801.2 1765.9L3798.4 1768.7L3793.7 1768.7L3791.4 1771.1L3779.2 1771.1L3778.7 1768.7L3780.6 1766.9L3781.1 1764.1L3783.9 1761.2L3783.9 1755.6L3785.3 1754.2L3789 1758L3791.8 1755.6L3791.8 1753.3L3794.2 1751.4L3794.2 1720.5L3797 1717.3L3797 1714L3799.8 1711.2L3803.5 1710.2L3804.5 1707.9L3800.7 1707L3792.8 1699L3779.7 1699ZM3861.1 1756.6L3865.8 1751.9L3867.2 1753.3L3867.2 1760.3L3865.8 1761.2ZM3876.5 1764.1L3881.2 1759.4L3886.8 1759.4L3888.5 1761.2L3884 1765.9L3877.9 1765.9ZM3716.5 1781.8L3720.7 1777.4L3731.5 1777.4L3733.3 1779.5L3729.1 1784L3725.9 1784.2L3723 1787L3720.7 1787Z" fill="#FF8000" fill-rule="evenodd" stroke="#E8F000" stroke-width="1.1" stroke-linejoin="round"/><use href="#landpath" style="fill:none;stroke:#000;stroke-width:2.4;stroke-linejoin:round"/><use href="#seapath" style="fill:none;stroke:#000;stroke-width:2.4;stroke-linejoin:round"/>
<path d="M285 2127.2V267.2M595 2127.2V267.2M905 2127.2V267.2M1215 2127.2V267.2M1525 2127.2V267.2M1835 2127.2V267.2M2145 2127.2V267.2M2455 2127.2V267.2M2765 2127.2V267.2M3075 2127.2V267.2M3385 2127.2V267.2M3695 2127.2V267.2M182.1 577H3902.1M182.1 887H3902.1M182.1 1197H3902.1M182.1 1507H3902.1M182.1 1817H3902.1" fill="none" stroke="#808080" stroke-width="4" stroke-dasharray="15.42 6.67"/>
<rect x="188.5" y="1903" width="216.5" height="217" fill="#fff"/><g transform="translate(186.0,1900.0) scale(0.14973)"><circle cx="742.7" cy="744.7" r="684" fill="#fff" stroke="#DADDDC" stroke-width="28"/><defs><clipPath id="lgdisc"><circle cx="734.0" cy="762.0" r="508.0"/></clipPath></defs><circle cx="734.0" cy="762.0" r="508.0" fill="#1C69B4"/><g clip-path="url(#lgdisc)" fill="none" stroke="#fff" stroke-width="4.5"><ellipse cx="734.0" cy="762.0" rx="98" ry="508.0"/><ellipse cx="734.0" cy="762.0" rx="168" ry="508.0"/><ellipse cx="734.0" cy="762.0" rx="335" ry="508.0"/><ellipse cx="734.0" cy="762.0" rx="430" ry="508.0"/><path d="M734.0 254.0V1270.0M226.0 762.0H1242.0"/><path d="M226 205L266 239L306 270L346 299L386 324L426 347L466 367L506 385L546 399L586 411L626 420L666 426L706 429L746 430L786 428L826 423L866 415L906 404L946 391L986 375L1026 356L1066 334L1106 309L1146 282L1186 252L1226 219"/><path d="M226 527L266 543L306 559L346 573L386 585L426 597L466 606L506 615L546 622L586 628L626 632L666 635L706 637L746 637L786 636L826 634L866 630L906 625L946 618L986 610L1026 601L1066 590L1106 578L1146 565L1186 550L1226 534"/><path d="M226 1319L266 1285L306 1254L346 1225L386 1200L426 1177L466 1157L506 1139L546 1125L586 1113L626 1104L666 1098L706 1095L746 1094L786 1096L826 1101L866 1109L906 1120L946 1133L986 1149L1026 1168L1066 1190L1106 1215L1146 1242L1186 1272L1226 1305"/><path d="M226 997L266 981L306 965L346 951L386 939L426 927L466 918L506 909L546 902L586 896L626 892L666 889L706 887L746 887L786 888L826 890L866 894L906 899L946 906L986 914L1026 923L1066 934L1106 946L1146 959L1186 974L1226 990"/></g><path d="M515 590C519 582 512 562 515 545C518 528 522 508 530 490C538 472 551 455 565 440C579 425 598 410 615 400C632 390 650 385 670 380C690 375 713 372 735 372C757 372 779 375 800 380C821 385 841 392 860 403C879 414 899 428 915 443C931 458 944 476 955 493C966 510 975 531 980 548C985 565 975 589 985 597C995 605 1022 594 1040 597C1058 600 1076 606 1090 615C1104 624 1116 636 1125 650C1134 664 1141 683 1145 700C1149 717 1151 732 1150 750C1149 768 1145 792 1140 810C1135 828 1127 842 1120 855C1113 868 1102 877 1100 890C1098 903 1102 924 1110 935C1118 946 1136 952 1150 958C1164 964 1191 963 1197 968C1203 973 1190 982 1185 990C1180 998 1182 1012 1168 1014C1154 1016 1123 1004 1100 1004C1077 1004 1053 1008 1030 1013C1007 1018 983 1026 960 1033C937 1040 913 1050 890 1058C867 1066 843 1076 820 1082C797 1088 773 1092 750 1093C727 1094 702 1090 680 1085C658 1080 638 1072 620 1062C602 1052 584 1039 570 1027C556 1015 544 1004 535 992C526 980 526 965 515 957C504 949 486 951 470 945C454 939 435 931 420 920C405 909 391 895 380 880C369 865 359 848 352 830C345 812 341 790 340 770C339 750 341 728 345 710C349 692 356 675 365 660C374 645 387 630 400 620C413 610 430 602 445 597C460 592 478 591 490 590C502 589 511 598 515 590Z" fill="#fff"/><path d="M1120 856C1148 858 1190 888 1205 905C1220 922 1213 948 1212 958C1211 968 1207 966 1197 966C1187 966 1164 960 1150 955C1136 950 1126 938 1110 933C1094 928 1076 920 1055 922C1034 924 1002 947 985 948C968 949 946 939 955 930C964 921 1012 905 1040 893C1068 881 1092 854 1120 856Z" fill="#1C69B4" clip-path="url(#lgdisc)"/><path d="M800 702C796 697 786 678 775 674C764 670 745 671 732 676C719 681 705 694 697 706C689 718 683 734 682 750C681 766 685 785 692 800C699 815 709 830 722 840C735 850 754 856 770 858C786 860 802 855 815 850C828 845 836 827 846 826C856 825 861 843 872 846C883 849 898 850 910 846C922 842 936 831 945 820C954 809 961 794 966 780C971 766 975 750 975 735C975 720 972 704 965 690C958 676 947 660 935 650C923 640 904 640 893 629C882 618 882 596 872 582C862 568 845 556 830 547C815 538 797 533 780 531C763 529 747 530 730 533C713 536 695 540 680 547C665 554 651 565 640 577C629 589 621 604 615 617C609 630 612 646 603 654C594 662 574 656 560 662C546 668 530 680 520 692C510 704 504 717 500 732C496 747 496 766 498 782C500 798 504 816 511 830C518 844 528 856 541 865C554 874 574 881 590 885C606 889 627 884 636 888C645 892 637 902 642 912C647 922 655 939 667 950C679 961 694 973 712 980C730 987 750 991 772 992C794 993 817 990 842 985C867 980 895 970 922 960C949 950 976 935 1002 925C1028 915 1063 902 1075 898" fill="none" stroke="#1C69B4" stroke-width="31" stroke-linecap="round" stroke-linejoin="round"/><circle cx="797" cy="700" r="24" fill="#1C69B4"/><text transform="translate(248.7,440.8) rotate(-58.4)" font-size="126" text-anchor="middle" dy="46" style="font-family:'Liberation Sans','Noto Sans CJK SC',sans-serif;font-weight:900;fill:#2B2421">中</text><text transform="translate(458.9,238.9) rotate(-29.3)" font-size="126" text-anchor="middle" dy="46" style="font-family:'Liberation Sans','Noto Sans CJK SC',sans-serif;font-weight:900;fill:#2B2421">国</text><text transform="translate(742.7,164.7) rotate(0.0)" font-size="126" text-anchor="middle" dy="46" style="font-family:'Liberation Sans','Noto Sans CJK SC',sans-serif;font-weight:900;fill:#2B2421">气</text><text transform="translate(1023.9,237.4) rotate(29.0)" font-size="126" text-anchor="middle" dy="46" style="font-family:'Liberation Sans','Noto Sans CJK SC',sans-serif;font-weight:900;fill:#2B2421">象</text><text transform="translate(1233.0,434.8) rotate(57.7)" font-size="126" text-anchor="middle" dy="46" style="font-family:'Liberation Sans','Noto Sans CJK SC',sans-serif;font-weight:900;fill:#2B2421">局</text><path id="lgarc" d="M123.2 662.0A625.0 625.0 0 1 0 1362.2 662.0" fill="none"/><text font-size="110" style="font-family:'Liberation Serif','DejaVu Serif',serif;fill:#2B2421" textLength="2129" lengthAdjust="spacingAndGlyphs"><textPath href="#lgarc" textLength="2129" lengthAdjust="spacingAndGlyphs">CHINA METEOROLOGICAL ADMINISTRATION</textPath></text></g>
</g>
<rect x="3518.5" y="2055.5" width="384" height="72" fill="#fff" stroke="#000" stroke-width="7"/>
<text x="3710.6" y="2103.8" font-size="41.67" text-anchor="middle">www.wmc-bj.net</text>
<rect x="182.5" y="267.5" width="3720" height="1860" fill="none" stroke="#000" stroke-width="7"/>
<text x="285.4" y="2178.6" font-size="41.67" text-anchor="middle">90°W</text>
<text x="595.4" y="2178.6" font-size="41.67" text-anchor="middle">60°W</text>
<text x="905.4" y="2178.6" font-size="41.67" text-anchor="middle">30°W</text>
<text x="1215.4" y="2178.6" font-size="41.67" text-anchor="middle">0°</text>
<text x="1525.4" y="2178.6" font-size="41.67" text-anchor="middle">30°E</text>
<text x="1835.4" y="2178.6" font-size="41.67" text-anchor="middle">60°E</text>
<text x="2145.4" y="2178.6" font-size="41.67" text-anchor="middle">90°E</text>
<text x="2455.4" y="2178.6" font-size="41.67" text-anchor="middle">120°E</text>
<text x="2765.4" y="2178.6" font-size="41.67" text-anchor="middle">150°E</text>
<text x="3075.4" y="2178.6" font-size="41.67" text-anchor="middle">180°</text>
<text x="3385.4" y="2178.6" font-size="41.67" text-anchor="middle">150°W</text>
<text x="3695.4" y="2178.6" font-size="41.67" text-anchor="middle">120°W</text>
<text x="165.6" y="284.8" font-size="41.67" text-anchor="end">90°N</text>
<text x="165.6" y="594.8" font-size="41.67" text-anchor="end">60°N</text>
<text x="165.6" y="904.8" font-size="41.67" text-anchor="end">30°N</text>
<text x="165.6" y="1214.8" font-size="41.67" text-anchor="end">0°</text>
<text x="165.6" y="1524.8" font-size="41.67" text-anchor="end">30°S</text>
<text x="165.6" y="1834.8" font-size="41.67" text-anchor="end">60°S</text>
<text x="165.6" y="2144.8" font-size="41.67" text-anchor="end">90°S</text>
<rect x="602" y="2217.0" width="169.9" height="54.0" fill="rgb(255,255,255)"/>
<rect x="771.4" y="2217.0" width="169.9" height="54.0" fill="rgb(219,247,255)"/>
<rect x="940.8" y="2217.0" width="169.9" height="54.0" fill="rgb(182,239,255)"/>
<rect x="1110.2" y="2217.0" width="169.9" height="54.0" fill="rgb(146,231,255)"/>
<rect x="1279.6" y="2217.0" width="169.9" height="54.0" fill="rgb(109,224,255)"/>
<rect x="1449.1" y="2217.0" width="169.9" height="54.0" fill="rgb(73,216,255)"/>
<rect x="1618.5" y="2217.0" width="169.9" height="54.0" fill="rgb(36,208,255)"/>
<rect x="1787.9" y="2217.0" width="169.9" height="54.0" fill="rgb(0,200,255)"/>
<rect x="1957.3" y="2217.0" width="169.9" height="54.0" fill="rgb(51,211,204)"/>
<rect x="2126.7" y="2217.0" width="169.9" height="54.0" fill="rgb(102,222,153)"/>
<rect x="2296.1" y="2217.0" width="169.9" height="54.0" fill="rgb(153,233,102)"/>
<rect x="2465.5" y="2217.0" width="169.9" height="54.0" fill="rgb(204,244,51)"/>
<rect x="2634.9" y="2217.0" width="169.9" height="54.0" fill="rgb(255,255,0)"/>
<rect x="2804.4" y="2217.0" width="169.9" height="54.0" fill="rgb(255,223,0)"/>
<rect x="2973.8" y="2217.0" width="169.9" height="54.0" fill="rgb(255,191,0)"/>
<rect x="3143.2" y="2217.0" width="169.9" height="54.0" fill="rgb(255,159,0)"/>
<rect x="3312.6" y="2217.0" width="169.9" height="54.0" fill="rgb(255,128,0)"/>
<path d="M771 2217.0V2271.0M941 2217.0V2271.0M1110 2217.0V2271.0M1280 2217.0V2271.0M1449 2217.0V2271.0M1618 2217.0V2271.0M1788 2217.0V2271.0M1957 2217.0V2271.0M2127 2217.0V2271.0M2296 2217.0V2271.0M2466 2217.0V2271.0M2635 2217.0V2271.0M2804 2217.0V2271.0M2974 2217.0V2271.0M3143 2217.0V2271.0M3313 2217.0V2271.0" stroke="#000" stroke-width="4" fill="none"/>
<rect x="602.0" y="2217.0" width="2880.0" height="54.0" fill="none" stroke="#000" stroke-width="4"/>
<text x="771.4" y="2333.6" font-size="58.33" text-anchor="middle">5</text>
<text x="940.8" y="2333.6" font-size="58.33" text-anchor="middle">10</text>
<text x="1110.2" y="2333.6" font-size="58.33" text-anchor="middle">15</text>
<text x="1279.6" y="2333.6" font-size="58.33" text-anchor="middle">20</text>
<text x="1449.1" y="2333.6" font-size="58.33" text-anchor="middle">25</text>
<text x="1618.5" y="2333.6" font-size="58.33" text-anchor="middle">30</text>
<text x="1787.9" y="2333.6" font-size="58.33" text-anchor="middle">35</text>
<text x="1957.3" y="2333.6" font-size="58.33" text-anchor="middle">40</text>
<text x="2126.7" y="2333.6" font-size="58.33" text-anchor="middle">45</text>
<text x="2296.1" y="2333.6" font-size="58.33" text-anchor="middle">50</text>
<text x="2465.5" y="2333.6" font-size="58.33" text-anchor="middle">55</text>
<text x="2634.9" y="2333.6" font-size="58.33" text-anchor="middle">60</text>
<text x="2804.4" y="2333.6" font-size="58.33" text-anchor="middle">70</text>
<text x="2973.8" y="2333.6" font-size="58.33" text-anchor="middle">80</text>
<text x="3143.2" y="2333.6" font-size="58.33" text-anchor="middle">90</text>
<text x="3312.6" y="2333.6" font-size="58.33" text-anchor="middle">95</text>
</svg></body></html>
